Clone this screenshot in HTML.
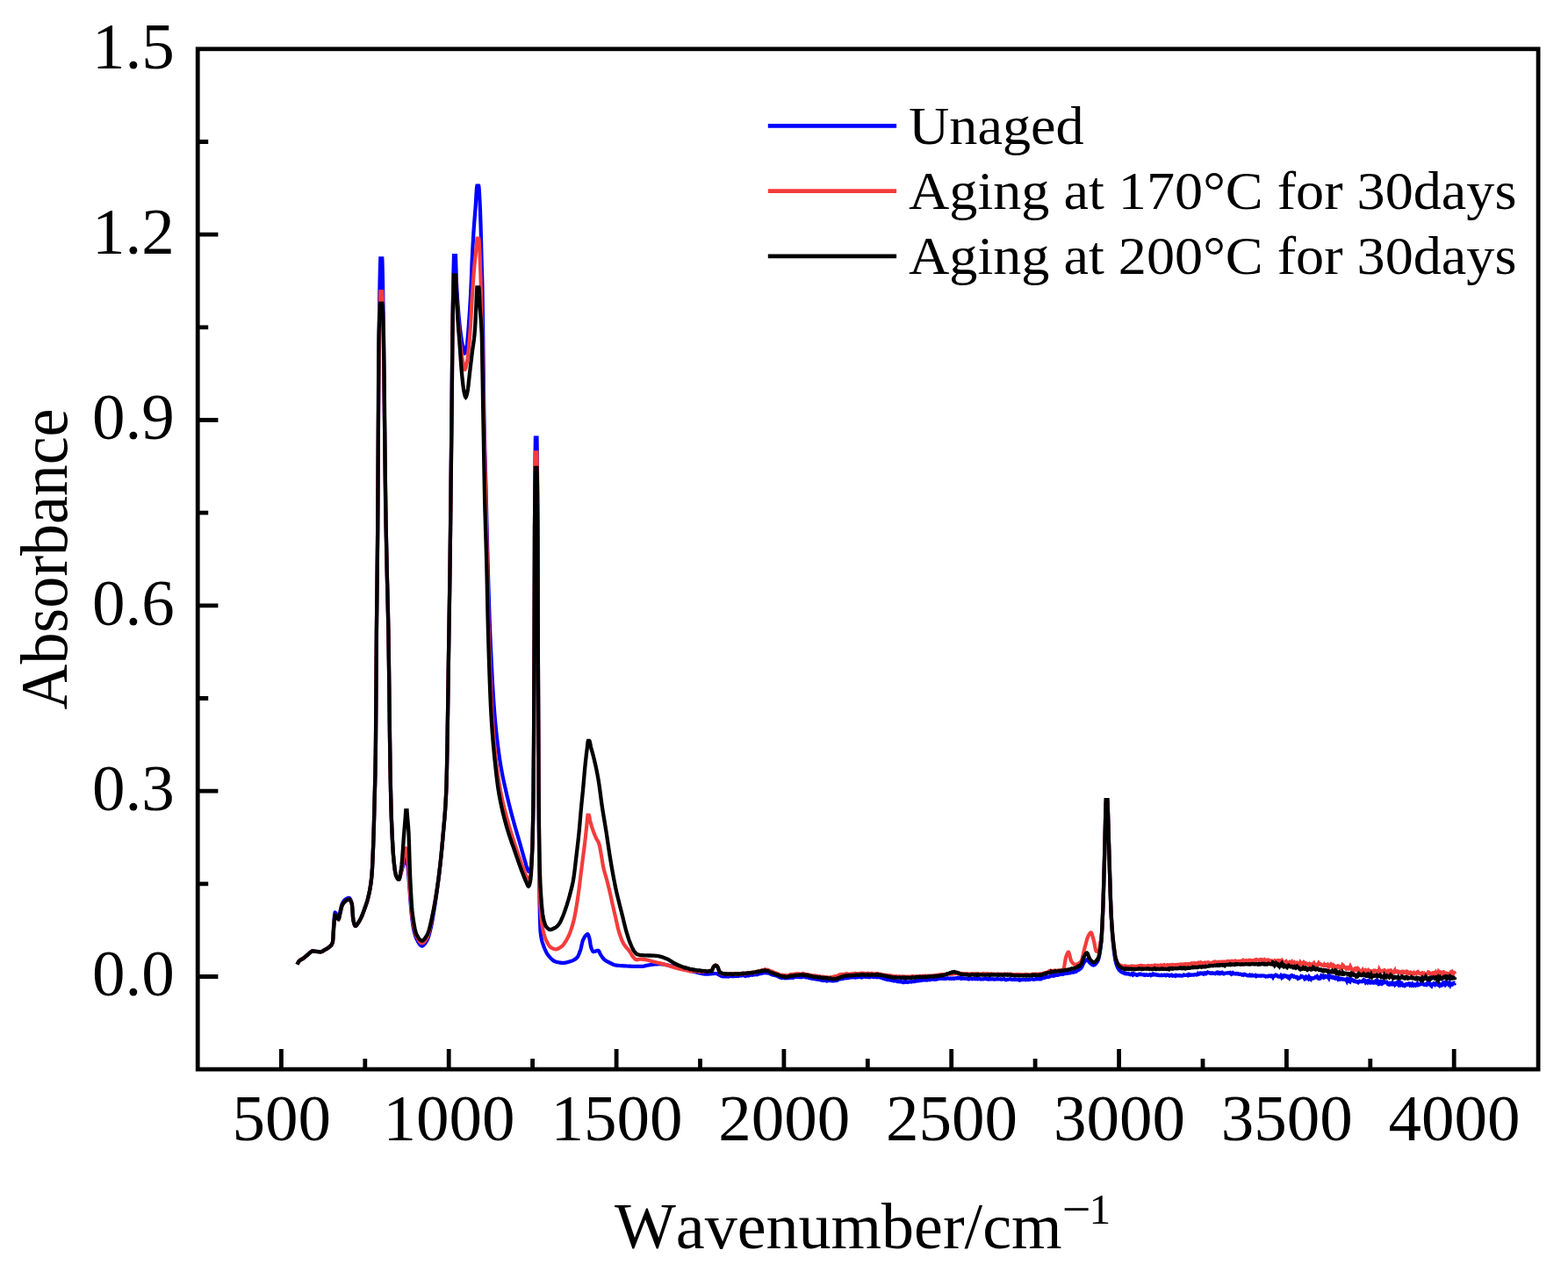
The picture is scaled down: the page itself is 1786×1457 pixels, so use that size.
<!DOCTYPE html>
<html lang="en"><head><meta charset="utf-8"><title>FTIR absorbance spectra</title>
<style>
html,body{margin:0;padding:0;background:#fff;}
body{width:1786px;height:1457px;overflow:hidden;}
svg{display:block;}
text{font-family:"Liberation Serif","Times New Roman",serif;fill:#000;font-kerning:none;}
.c{fill:none;stroke-linejoin:miter;stroke-miterlimit:3;stroke-linecap:butt;}
</style></head>
<body>
<svg width="1786" height="1457" viewBox="0 0 1786 1457">
<rect x="0" y="0" width="1786" height="1457" fill="#ffffff"/>
<path class="c" stroke="#0000ff" stroke-width="4.2" d="M338.5 1098.6L339.0 1097.6L339.5 1096.7L340.0 1095.8L340.5 1095.1L341.0 1094.5L341.5 1094.1L342.0 1093.7L342.5 1093.4L343.0 1093.1L343.5 1092.9L344.0 1092.6L344.5 1092.3L345.0 1092.0L345.2 1091.9L345.5 1091.7L346.0 1091.3L346.5 1090.9L347.0 1090.5L347.5 1090.1L348.0 1089.6L348.5 1089.2L349.0 1088.8L349.5 1088.4L350.0 1088.0L350.5 1087.6L351.0 1087.1L351.5 1086.7L352.0 1086.2L352.5 1085.7L353.0 1085.2L353.5 1084.8L354.0 1084.4L354.5 1084.1L355.0 1083.8L355.5 1083.6L356.0 1083.5L356.2 1083.5L356.5 1083.5L357.0 1083.5L357.5 1083.6L358.0 1083.6L358.5 1083.7L359.0 1083.8L359.5 1083.8L360.0 1083.9L360.5 1084.0L361.0 1084.0L361.5 1084.0L362.0 1084.1L362.5 1084.1L363.0 1084.2L363.5 1084.2L364.0 1084.3L364.5 1084.3L365.0 1084.3L365.4 1084.3L365.5 1084.3L366.0 1084.2L366.5 1084.1L367.0 1083.9L367.5 1083.6L368.0 1083.3L368.5 1083.0L369.0 1082.6L369.5 1082.3L370.0 1082.0L370.5 1081.7L371.0 1081.4L371.5 1081.2L372.0 1080.9L372.5 1080.6L373.0 1080.3L373.5 1080.0L374.0 1079.6L374.5 1079.3L375.0 1078.8L375.5 1078.4L376.0 1078.0L376.5 1077.5L377.0 1077.0L377.5 1076.4L378.0 1075.6L378.5 1074.5L378.9 1073.4L379.0 1072.9L379.5 1065.6L380.0 1055.9L380.2 1053.0L380.5 1049.2L381.0 1043.1L381.5 1039.6L381.6 1039.5L382.0 1039.7L382.5 1040.3L383.0 1041.2L383.5 1042.0L384.0 1043.0L384.5 1044.3L385.0 1045.4L385.5 1046.0L385.6 1046.0L386.0 1045.4L386.5 1043.2L387.0 1040.5L387.5 1038.0L388.0 1035.9L388.5 1033.7L389.0 1031.7L389.5 1030.0L389.8 1029.3L390.0 1028.9L390.5 1028.0L391.0 1027.2L391.5 1026.5L392.0 1025.9L392.5 1025.4L393.0 1025.0L393.5 1024.6L394.0 1024.3L394.5 1023.9L395.0 1023.6L395.5 1023.3L396.0 1023.1L396.5 1022.9L397.0 1022.8L397.4 1022.8L397.5 1022.8L398.0 1023.0L398.5 1023.6L399.0 1024.4L399.5 1025.4L400.0 1026.8L400.5 1028.3L400.7 1029.0L401.0 1031.1L401.5 1037.6L402.0 1044.6L402.4 1048.1L402.5 1048.6L403.0 1050.7L403.5 1052.5L404.0 1053.8L404.5 1054.7L404.9 1054.9L405.0 1054.9L405.5 1054.6L406.0 1054.1L406.5 1053.5L407.0 1052.7L407.5 1052.0L408.0 1051.3L408.5 1050.6L409.0 1049.8L409.5 1048.9L410.0 1048.0L410.5 1047.1L410.8 1046.5L411.0 1046.1L411.5 1045.0L412.0 1043.9L412.5 1042.7L413.0 1041.4L413.5 1040.1L414.0 1038.8L414.5 1037.4L415.0 1036.0L415.5 1034.6L416.0 1033.3L416.5 1031.9L417.0 1030.4L417.5 1028.9L418.0 1027.3L418.5 1025.6L419.0 1023.7L419.2 1022.9L419.5 1021.7L420.0 1019.6L420.5 1017.4L421.0 1015.0L421.5 1012.2L422.0 1009.2L422.5 1005.6L423.0 1001.5L423.4 997.7L423.5 996.6L424.0 989.1L424.5 978.7L425.0 966.6L425.1 964.1L425.5 952.8L426.0 935.8L426.5 916.8L426.8 905.0L427.0 897.4L427.5 876.9L427.8 860.0L428.0 842.2L428.5 773.8L428.9 720.0L429.0 709.3L429.5 663.1L430.0 618.9L430.4 576.0L430.5 562.7L431.0 479.8L431.2 450.0L431.5 411.5L432.0 357.9L432.1 350.0L432.5 324.4L432.9 306.0L433.0 302.1L433.3 294.4L433.5 294.4L434.0 294.4L434.5 294.4L435.0 294.4L435.3 294.4L435.5 298.4L435.7 306.0L436.0 319.5L436.5 350.0L437.0 393.1L437.5 441.5L437.6 450.0L438.0 481.8L438.5 519.2L439.0 553.5L439.1 560.0L439.5 585.0L440.0 613.9L440.5 640.0L441.0 661.8L441.5 680.9L442.0 700.9L442.4 720.0L442.5 725.6L443.0 759.9L443.5 800.3L444.0 840.6L444.5 874.5L444.6 880.0L445.0 899.9L445.5 920.9L445.8 930.4L446.0 935.6L446.5 947.5L447.0 957.9L447.5 966.8L448.0 974.1L448.5 979.9L448.6 980.9L449.0 984.6L449.5 988.7L450.0 992.3L450.5 995.1L451.0 997.2L451.2 997.7L451.5 998.4L452.0 999.4L452.5 1000.4L453.0 1001.1L453.5 1001.6L454.0 1001.9L454.2 1001.9L454.5 1001.8L455.0 1000.9L455.5 999.5L456.0 997.7L456.5 995.8L457.0 993.8L457.5 992.0L458.0 990.3L458.5 988.4L459.0 986.5L459.5 984.6L460.0 983.0L460.5 981.3L461.0 979.6L461.5 978.1L462.0 977.2L462.3 977.0L462.5 977.1L463.0 978.5L463.5 981.1L464.0 984.4L464.5 988.0L465.0 992.8L465.5 999.1L466.0 1006.0L466.3 1010.0L466.5 1012.6L467.0 1019.5L467.5 1026.5L468.0 1033.2L468.5 1039.0L468.6 1040.0L469.0 1043.8L469.5 1048.2L470.0 1052.1L470.5 1055.4L470.8 1057.0L471.0 1058.0L471.5 1060.2L472.0 1062.2L472.5 1064.1L473.0 1065.7L473.5 1067.2L474.0 1068.5L474.5 1069.6L474.7 1070.0L475.0 1070.6L475.5 1071.5L476.0 1072.5L476.5 1073.4L477.0 1074.2L477.5 1075.0L478.0 1075.7L478.5 1076.3L479.0 1076.8L479.5 1077.2L480.0 1077.5L480.5 1077.6L480.6 1077.6L481.0 1077.6L481.5 1077.4L482.0 1077.1L482.5 1076.7L483.0 1076.2L483.5 1075.6L484.0 1075.0L484.5 1074.3L485.0 1073.5L485.5 1072.7L486.0 1071.9L486.5 1071.0L487.0 1070.0L487.5 1068.8L488.0 1067.4L488.5 1065.8L489.0 1064.0L489.5 1062.1L490.0 1060.1L490.5 1058.1L491.0 1056.0L491.5 1053.7L492.0 1051.2L492.5 1048.5L493.0 1045.6L493.5 1042.6L493.6 1042.0L494.0 1039.6L494.5 1036.5L495.0 1033.3L495.5 1030.1L496.0 1026.8L496.5 1023.4L497.0 1019.9L497.5 1016.3L498.0 1012.6L498.5 1008.8L499.0 1005.0L499.5 1001.0L499.9 997.7L500.0 996.9L500.5 992.6L501.0 988.3L501.5 983.8L502.0 979.1L502.5 974.3L503.0 969.3L503.5 964.1L504.0 958.7L504.5 953.1L505.0 947.3L505.5 941.6L506.0 936.0L506.5 930.2L507.0 923.6L507.5 915.9L508.0 906.5L508.3 900.0L508.5 894.6L509.0 874.6L509.5 847.4L510.0 815.4L510.5 780.8L511.0 746.2L511.4 720.0L511.5 713.7L512.0 682.1L512.5 647.5L512.6 640.0L513.0 606.4L513.5 560.0L514.0 510.0L514.5 459.5L514.6 450.0L515.0 413.3L515.4 380.0L515.5 372.4L516.0 337.2L516.3 320.0L516.5 309.1L517.0 291.1L517.5 291.1L518.0 291.1L518.5 291.1L519.0 291.1L519.5 307.8L519.7 315.0L520.0 321.8L520.5 331.4L521.0 339.3L521.4 345.0L521.5 346.4L522.0 352.9L522.5 358.9L523.0 364.4L523.5 369.3L523.8 372.0L524.0 373.7L524.5 377.9L525.0 381.7L525.5 385.3L526.0 388.5L526.5 391.4L526.8 393.0L527.0 394.0L527.5 396.7L528.0 399.3L528.5 401.3L529.0 402.4L529.2 402.5L529.5 402.3L530.0 401.3L530.5 399.6L531.0 397.4L531.5 395.0L532.0 391.8L532.5 387.2L533.0 381.7L533.5 375.3L534.0 368.5L534.5 361.4L534.6 360.0L535.0 354.0L535.5 345.7L536.0 336.4L536.5 326.2L536.6 324.0L537.0 313.8L537.5 300.3L537.6 298.0L538.0 289.7L538.5 280.1L539.0 271.5L539.5 263.5L539.6 262.0L540.0 256.3L540.5 249.8L541.0 243.6L541.5 237.3L541.6 236.0L542.0 229.7L542.5 220.8L543.0 213.8L543.4 211.6L543.5 211.6L544.0 211.6L544.5 211.6L545.0 211.6L545.2 211.6L545.5 212.9L546.0 219.7L546.5 229.7L546.8 236.0L547.0 240.6L547.5 255.4L547.7 262.0L548.0 273.4L548.5 294.3L548.6 298.0L549.0 310.1L549.4 324.0L549.5 329.0L550.0 364.5L550.2 380.0L550.5 405.1L551.0 449.3L551.3 470.0L551.5 480.5L552.0 502.8L552.5 521.2L553.0 538.2L553.5 556.1L553.6 560.0L554.0 576.2L554.5 597.0L555.0 617.4L555.5 636.5L555.6 640.0L556.0 653.9L556.5 670.8L557.0 686.9L557.5 701.8L558.0 715.2L558.2 720.0L558.5 726.9L559.0 738.1L559.5 748.8L560.0 759.1L560.5 768.8L561.0 778.0L561.5 786.6L562.0 794.6L562.5 802.0L563.0 808.8L563.5 815.0L564.0 820.7L564.5 826.0L565.0 831.1L565.5 835.9L566.0 840.5L566.5 844.8L567.0 848.9L567.5 852.8L568.0 856.6L568.5 860.1L569.0 863.6L569.5 866.8L570.0 870.0L570.5 873.0L571.0 875.9L571.5 878.7L572.0 881.3L572.5 883.8L573.0 886.3L573.5 888.6L574.0 890.9L574.5 893.2L575.0 895.4L575.5 897.6L576.0 899.8L576.5 902.0L577.0 904.2L577.5 906.4L578.0 908.5L578.5 910.6L579.0 912.7L579.5 914.7L580.0 916.7L580.5 918.7L581.0 920.7L581.5 922.6L582.0 924.6L582.5 926.5L583.0 928.4L583.5 930.3L584.0 932.1L584.5 934.0L585.0 935.8L585.5 937.6L586.0 939.4L586.5 941.2L587.0 942.9L587.5 944.7L588.0 946.4L588.5 948.1L589.0 949.8L589.5 951.5L590.0 953.1L590.5 954.8L591.0 956.5L591.5 958.3L592.0 960.0L592.5 961.7L593.0 963.5L593.5 965.3L594.0 967.1L594.5 968.8L595.0 970.6L595.5 972.4L596.0 974.1L596.5 975.9L597.0 977.6L597.5 979.3L598.0 981.0L598.5 982.7L599.0 984.5L599.5 986.3L600.0 987.9L600.5 989.3L600.8 990.0L601.0 990.4L601.5 991.6L602.0 992.5L602.5 993.0L602.6 993.0L603.0 992.8L603.5 992.2L604.0 991.1L604.4 990.0L604.5 989.6L605.0 985.8L605.5 979.1L606.0 970.1L606.2 966.0L606.5 958.2L607.0 937.9L607.5 907.5L607.6 900.0L608.0 849.0L608.5 746.2L608.6 723.0L609.0 600.0L609.5 527.2L609.6 518.0L609.9 498.6L610.0 498.6L610.5 498.6L611.0 498.6L611.5 498.6L611.8 518.0L612.0 538.1L612.4 600.0L612.5 625.2L612.8 723.0L613.0 773.9L613.5 882.6L613.6 900.0L614.0 964.5L614.5 1023.5L614.6 1030.0L615.0 1048.4L615.5 1060.6L616.0 1064.9L616.5 1068.2L617.0 1070.7L617.5 1072.6L618.0 1074.2L618.5 1075.6L618.9 1076.7L619.0 1077.0L619.5 1078.4L620.0 1079.7L620.5 1081.0L621.0 1082.1L621.5 1083.2L622.0 1084.2L622.5 1085.2L623.0 1086.1L623.5 1086.9L624.0 1087.6L624.5 1088.3L624.9 1088.8L625.0 1088.9L625.5 1089.5L626.0 1090.1L626.5 1090.7L627.0 1091.2L627.5 1091.8L628.0 1092.3L628.5 1092.7L629.0 1093.2L629.5 1093.6L630.0 1094.0L630.5 1094.4L631.0 1094.7L631.5 1095.0L632.0 1095.2L632.5 1095.4L633.0 1095.6L633.5 1095.7L634.0 1095.9L634.5 1096.0L635.0 1096.1L635.5 1096.2L636.0 1096.3L636.5 1096.4L637.0 1096.5L637.5 1096.6L638.0 1096.7L638.5 1096.7L639.0 1096.8L639.5 1096.8L640.0 1096.9L640.5 1096.9L641.0 1096.9L641.1 1096.9L641.5 1096.9L642.0 1096.9L642.5 1096.8L643.0 1096.8L643.5 1096.7L644.0 1096.6L644.5 1096.6L645.0 1096.5L645.5 1096.3L646.0 1096.2L646.5 1096.1L647.0 1096.0L647.5 1095.8L648.0 1095.7L648.5 1095.5L649.0 1095.4L649.5 1095.2L650.0 1095.1L650.5 1094.9L651.0 1094.7L651.5 1094.6L652.0 1094.4L652.5 1094.1L653.0 1093.9L653.5 1093.6L654.0 1093.4L654.5 1093.1L655.0 1092.7L655.5 1092.4L656.0 1092.0L656.5 1091.6L657.0 1091.1L657.2 1090.9L657.5 1090.6L658.0 1089.8L658.5 1089.0L659.0 1087.9L659.5 1086.7L660.0 1085.4L660.5 1084.1L661.0 1082.7L661.2 1082.1L661.5 1081.1L662.0 1079.1L662.5 1076.8L663.0 1074.6L663.5 1072.6L663.9 1071.4L664.0 1071.2L664.5 1070.0L665.0 1068.9L665.5 1068.0L666.0 1067.2L666.5 1066.4L667.0 1065.8L667.3 1065.5L667.5 1065.3L668.0 1064.8L668.5 1064.4L669.0 1064.1L669.3 1064.1L669.5 1064.2L670.0 1064.9L670.5 1066.2L671.0 1067.7L671.3 1068.7L671.5 1069.5L672.0 1072.2L672.5 1075.5L673.0 1078.3L673.3 1079.4L673.5 1079.9L674.0 1081.2L674.5 1082.4L675.0 1083.3L675.5 1083.9L676.0 1084.1L676.5 1084.1L677.0 1084.0L677.5 1083.9L678.0 1083.7L678.5 1083.5L679.0 1083.3L679.5 1083.2L680.0 1083.0L680.5 1082.9L681.0 1082.8L681.4 1082.8L681.5 1082.8L682.0 1083.2L682.5 1084.1L683.0 1085.2L683.5 1086.4L684.0 1087.3L684.1 1087.5L684.5 1088.1L685.0 1088.9L685.5 1089.7L686.0 1090.4L686.5 1091.1L687.0 1091.7L687.5 1092.3L688.0 1092.8L688.1 1092.9L688.5 1093.2L689.0 1093.6L689.5 1094.0L690.0 1094.3L690.5 1094.7L691.0 1095.0L691.5 1095.2L692.0 1095.5L692.5 1095.8L693.0 1096.0L693.5 1096.3L694.0 1096.5L694.5 1096.8L694.8 1096.9L695.0 1097.0L695.5 1097.2L696.0 1097.5L696.5 1097.7L697.0 1098.0L697.5 1098.2L698.0 1098.5L698.5 1098.7L699.0 1098.9L699.5 1099.1L700.0 1099.3L700.5 1099.4L701.0 1099.5L701.5 1099.6L702.0 1099.7L702.5 1099.7L703.0 1099.8L703.5 1099.8L704.0 1099.9L704.5 1099.9L705.0 1100.0L705.5 1100.0L706.0 1100.0L706.5 1100.1L707.0 1100.1L707.5 1100.1L708.0 1100.1L708.5 1100.2L709.0 1100.2L709.5 1100.2L710.0 1100.3L710.5 1100.3L710.9 1100.3L711.0 1100.3L711.5 1100.3L712.0 1100.4L712.5 1100.4L713.0 1100.4L713.5 1100.5L714.0 1100.5L714.5 1100.5L715.0 1100.5L715.5 1100.6L716.0 1100.6L716.5 1100.6L717.0 1100.7L717.5 1100.7L718.0 1100.7L718.5 1100.7L719.0 1100.8L719.5 1100.8L720.0 1100.8L720.5 1100.8L721.0 1100.8L721.5 1100.9L722.0 1100.9L722.5 1100.9L723.0 1100.9L723.5 1100.9L724.0 1100.9L724.4 1100.9L724.5 1100.9L725.0 1100.9L725.5 1100.9L726.0 1100.9L726.5 1100.9L727.0 1100.9L727.5 1100.9L728.0 1100.9L728.5 1100.9L729.0 1100.9L729.5 1100.9L730.0 1100.9L730.5 1100.9L731.0 1100.9L731.1 1100.9L731.5 1100.9L732.0 1100.9L732.5 1100.8L733.0 1100.7L733.5 1100.6L734.0 1100.5L734.5 1100.4L735.0 1100.2L735.5 1100.1L736.0 1100.0L736.5 1099.8L737.0 1099.7L737.5 1099.6L737.8 1099.6L738.0 1099.6L738.5 1099.5L739.0 1099.4L739.5 1099.4L740.0 1099.3L740.5 1099.2L741.0 1099.1L741.5 1099.1L742.0 1099.0L742.5 1098.9L743.0 1098.9L743.5 1098.8L744.0 1098.7L744.5 1098.7L745.0 1098.6L745.5 1098.5L746.0 1098.5L746.5 1098.4L747.0 1098.4L747.5 1098.4L748.0 1098.3L748.5 1098.3L749.0 1098.3L749.5 1098.2L750.0 1098.2L750.5 1098.2L751.0 1098.2L751.2 1098.2L751.5 1098.2L752.0 1098.2L752.5 1098.2L753.0 1098.3L753.5 1098.3L754.0 1098.4L754.5 1098.4L755.0 1098.5L755.5 1098.5L756.0 1098.6L756.5 1098.7L757.0 1098.8L757.5 1098.9L758.0 1099.0L758.5 1099.1L759.0 1099.2L759.5 1099.3L760.0 1099.4L760.5 1099.5L761.0 1099.6L761.5 1099.7L762.0 1099.8L762.5 1100.0L763.0 1100.1L763.5 1100.2L764.0 1100.3L764.5 1100.4L765.0 1100.5L765.5 1100.6L766.0 1100.7L766.5 1100.8L767.0 1101.0L767.5 1101.1L768.0 1101.2L768.5 1101.3L769.0 1101.5L769.5 1101.6L770.0 1101.7L770.5 1101.9L771.0 1102.0L771.5 1102.2L772.0 1102.3L772.5 1102.4L773.0 1102.6L773.5 1102.7L774.0 1102.9L774.5 1103.0L775.0 1103.2L775.5 1103.3L776.0 1103.4L776.5 1103.6L777.0 1103.7L777.5 1103.8L778.0 1104.0L778.1 1104.0L778.5 1104.1L779.0 1104.2L779.5 1104.4L780.0 1104.5L780.5 1104.6L781.0 1104.7L781.5 1104.9L782.0 1105.0L782.5 1105.1L783.0 1105.2L783.5 1105.3L784.0 1105.5L784.5 1105.6L785.0 1105.7L785.5 1105.8L786.0 1105.9L786.5 1106.1L787.0 1106.2L787.5 1106.3L788.0 1106.4L788.5 1106.5L789.0 1106.6L789.5 1106.7L790.0 1106.9L790.5 1107.0L791.0 1107.1L791.5 1107.2L791.6 1107.2L792.0 1107.3L792.5 1107.4L793.0 1107.5L793.5 1107.6L794.0 1107.7L794.5 1107.9L795.0 1108.0L795.5 1108.1L796.0 1108.2L796.5 1108.4L797.0 1108.5L797.5 1108.6L798.0 1108.7L798.5 1108.8L799.0 1109.0L799.5 1109.1L800.0 1109.2L800.5 1109.3L801.0 1109.3L801.5 1109.4L802.0 1109.5L802.5 1109.6L803.0 1109.6L803.5 1109.6L804.0 1109.7L804.5 1109.7L805.0 1109.7L805.5 1109.7L806.0 1109.7L806.5 1109.7L807.0 1109.6L807.5 1109.6L808.0 1109.5L808.5 1109.5L809.0 1109.5L809.5 1109.4L810.0 1109.3L810.5 1109.3L811.0 1109.2L811.5 1109.2L812.0 1109.2L812.5 1109.1L813.0 1109.1L813.5 1109.0L814.0 1109.0L814.5 1109.0L815.0 1109.0L815.5 1109.0L816.0 1109.1L816.5 1109.3L817.0 1109.4L817.5 1109.7L818.0 1109.9L818.5 1110.2L819.0 1110.5L819.5 1110.8L820.0 1111.0L820.5 1111.3L821.0 1111.6L821.5 1111.8L822.0 1112.0L822.5 1112.2L823.0 1112.3L823.5 1112.4L823.8 1112.4L824.0 1112.4L824.5 1112.4L825.0 1112.4L825.5 1112.4L826.0 1112.4L826.5 1112.3L827.0 1112.3L827.5 1112.3L828.0 1112.3L828.5 1112.3L829.0 1112.2L829.5 1112.2L830.0 1112.4L830.5 1112.1L831.0 1111.9L831.5 1111.9L832.0 1111.9L832.5 1111.9L833.0 1112.1L833.5 1112.1L833.6 1112.0L834.0 1112.1L834.5 1112.0L835.0 1111.6L835.5 1111.6L836.0 1111.9L836.5 1112.0L837.0 1111.7L837.5 1111.6L838.0 1111.6L838.5 1111.8L839.0 1111.8L839.5 1111.7L840.0 1111.9L840.5 1112.1L841.0 1112.0L841.5 1111.8L842.0 1111.6L842.5 1111.4L843.0 1111.4L843.5 1111.5L844.0 1111.6L844.5 1111.4L845.0 1111.3L845.5 1111.2L846.0 1111.2L846.5 1111.2L847.0 1111.2L847.5 1111.2L848.0 1111.5L848.5 1111.8L849.0 1111.6L849.5 1111.2L850.0 1111.0L850.4 1111.1L850.5 1111.5L851.0 1111.3L851.5 1111.0L852.0 1111.3L852.5 1111.5L853.0 1111.3L853.5 1111.1L854.0 1111.0L854.5 1110.7L855.0 1110.5L855.5 1110.5L856.0 1110.6L856.5 1110.7L857.0 1110.8L857.5 1110.7L858.0 1110.6L858.5 1110.4L859.0 1110.3L859.5 1110.4L860.0 1110.3L860.5 1110.0L861.0 1110.0L861.5 1110.0L862.0 1110.1L862.5 1110.3L863.0 1110.1L863.5 1109.3L863.8 1109.0L864.0 1109.2L864.5 1109.5L865.0 1109.5L865.5 1109.1L866.0 1108.7L866.5 1108.8L867.0 1109.0L867.5 1108.9L868.0 1108.7L868.5 1108.5L869.0 1108.3L869.5 1108.3L870.0 1108.3L870.5 1108.2L871.0 1108.0L871.5 1107.9L872.0 1108.0L872.2 1108.2L872.5 1108.4L873.0 1108.4L873.5 1108.2L874.0 1108.1L874.5 1108.2L875.0 1108.5L875.5 1108.7L876.0 1108.8L876.5 1108.9L877.0 1109.1L877.5 1109.4L878.0 1109.7L878.5 1110.0L879.0 1110.2L879.5 1110.2L880.0 1110.2L880.5 1110.5L880.6 1110.6L881.0 1110.5L881.5 1110.6L882.0 1110.8L882.5 1110.8L883.0 1111.3L883.5 1111.5L884.0 1111.5L884.5 1111.6L885.0 1111.7L885.5 1111.8L886.0 1112.1L886.5 1112.5L887.0 1112.8L887.5 1112.7L888.0 1112.9L888.5 1113.5L889.0 1113.6L889.5 1113.3L890.0 1113.7L890.5 1114.1L891.0 1113.9L891.5 1113.7L892.0 1114.0L892.5 1114.0L893.0 1113.8L893.5 1113.9L894.0 1114.2L894.5 1114.3L894.9 1114.2L895.0 1114.1L895.5 1114.1L896.0 1114.2L896.5 1114.2L897.0 1114.1L897.5 1114.1L898.0 1114.2L898.5 1114.2L899.0 1114.1L899.5 1113.9L900.0 1113.8L900.5 1113.8L901.0 1113.8L901.5 1113.6L902.0 1113.2L902.5 1113.0L903.0 1113.5L903.5 1113.8L904.0 1113.5L904.2 1113.2L904.5 1113.1L905.0 1113.1L905.5 1113.0L906.0 1112.8L906.5 1112.7L907.0 1112.7L907.5 1112.9L908.0 1112.9L908.5 1112.9L909.0 1112.9L909.5 1113.0L910.0 1113.1L910.5 1113.0L911.0 1112.5L911.5 1112.4L912.0 1113.0L912.5 1113.2L913.0 1112.8L913.5 1112.6L914.0 1112.7L914.2 1112.8L914.5 1112.7L915.0 1112.7L915.5 1112.5L916.0 1112.4L916.5 1112.7L917.0 1113.1L917.5 1113.2L918.0 1113.0L918.5 1113.0L919.0 1113.2L919.5 1113.4L920.0 1113.4L920.5 1113.6L921.0 1113.8L921.5 1114.1L922.0 1114.3L922.5 1114.4L923.0 1114.1L923.5 1113.9L924.0 1114.3L924.5 1114.6L925.0 1114.8L925.5 1114.8L926.0 1114.8L926.5 1114.9L927.0 1115.1L927.5 1115.2L927.7 1114.8L928.0 1114.4L928.5 1114.5L929.0 1114.8L929.5 1115.2L930.0 1115.6L930.5 1115.5L931.0 1115.4L931.5 1115.7L932.0 1115.6L932.5 1115.6L933.0 1116.0L933.5 1116.2L934.0 1116.2L934.5 1116.4L935.0 1116.6L935.5 1116.7L936.0 1116.8L936.5 1116.9L937.0 1116.6L937.5 1116.6L938.0 1117.0L938.5 1116.9L939.0 1116.7L939.5 1116.7L940.0 1116.9L940.5 1117.0L941.0 1117.2L941.5 1117.4L942.0 1117.5L942.5 1117.2L943.0 1116.8L943.5 1116.8L944.0 1116.8L944.5 1116.9L945.0 1117.1L945.5 1117.1L946.0 1117.1L946.5 1117.0L947.0 1116.8L947.5 1116.9L948.0 1117.3L948.5 1117.3L949.0 1117.3L949.5 1117.3L950.0 1116.9L950.5 1116.8L951.0 1116.7L951.2 1116.6L951.5 1117.1L952.0 1117.1L952.5 1116.8L953.0 1117.0L953.5 1116.9L954.0 1116.4L954.5 1116.1L955.0 1115.8L955.5 1115.5L956.0 1115.5L956.5 1115.4L957.0 1115.3L957.5 1115.4L957.9 1115.2L958.0 1115.1L958.5 1114.9L959.0 1114.8L959.5 1114.9L960.0 1115.1L960.5 1114.9L961.0 1114.6L961.5 1114.2L962.0 1113.9L962.5 1114.0L963.0 1114.2L963.5 1114.3L964.0 1114.2L964.5 1113.9L965.0 1113.7L965.5 1113.9L966.0 1114.0L966.5 1113.9L967.0 1113.7L967.5 1113.7L968.0 1113.5L968.5 1113.4L969.0 1113.4L969.5 1113.5L970.0 1113.5L970.5 1113.4L971.0 1113.3L971.5 1113.2L972.0 1113.3L972.5 1113.4L973.0 1113.4L973.5 1113.2L974.0 1113.4L974.5 1113.5L975.0 1113.0L975.5 1112.7L976.0 1112.8L976.5 1113.1L977.0 1113.3L977.5 1113.1L978.0 1112.9L978.5 1112.9L979.0 1113.0L979.5 1113.1L980.0 1113.2L980.5 1113.1L981.0 1113.2L981.5 1113.5L982.0 1113.4L982.5 1113.0L983.0 1112.8L983.5 1112.6L984.0 1112.5L984.5 1112.6L984.8 1112.7L985.0 1112.7L985.5 1112.7L986.0 1112.9L986.5 1113.0L987.0 1112.9L987.5 1113.0L988.0 1113.0L988.5 1113.1L989.0 1113.1L989.5 1113.0L990.0 1112.7L990.5 1112.9L991.0 1113.1L991.5 1112.7L992.0 1112.2L992.5 1112.0L993.0 1112.0L993.5 1112.2L994.0 1112.7L994.5 1113.1L995.0 1113.0L995.5 1112.9L996.0 1113.0L996.5 1112.9L997.0 1112.9L997.5 1113.0L998.0 1113.0L998.2 1112.9L998.5 1113.2L999.0 1113.3L999.5 1113.2L1000.0 1113.2L1000.5 1113.1L1001.0 1113.1L1001.5 1113.3L1002.0 1113.4L1002.5 1113.4L1003.0 1113.5L1003.5 1113.7L1004.0 1113.9L1004.5 1113.8L1005.0 1114.1L1005.5 1114.4L1006.0 1114.7L1006.5 1114.5L1007.0 1114.3L1007.5 1114.8L1008.0 1115.2L1008.5 1115.1L1009.0 1115.3L1009.5 1115.5L1010.0 1115.7L1010.5 1116.0L1011.0 1116.2L1011.5 1116.2L1012.0 1115.8L1012.5 1115.7L1013.0 1116.2L1013.5 1116.5L1014.0 1116.3L1014.5 1116.1L1015.0 1116.4L1015.5 1116.7L1016.0 1116.8L1016.5 1116.8L1017.0 1116.8L1017.5 1116.8L1018.0 1116.8L1018.4 1117.0L1018.5 1117.4L1019.0 1117.4L1019.5 1117.3L1020.0 1117.4L1020.5 1117.4L1021.0 1117.4L1021.5 1117.7L1022.0 1118.1L1022.5 1118.1L1023.0 1117.9L1023.5 1117.9L1024.0 1118.3L1024.5 1118.4L1025.0 1118.3L1025.5 1118.0L1026.0 1117.8L1026.5 1118.1L1027.0 1118.6L1027.5 1118.7L1028.0 1118.8L1028.5 1119.1L1029.0 1119.1L1029.5 1118.5L1030.0 1117.9L1030.1 1117.9L1030.5 1118.4L1031.0 1118.8L1031.5 1118.5L1032.0 1118.2L1032.5 1118.5L1033.0 1118.8L1033.5 1118.5L1034.0 1118.5L1034.5 1118.8L1035.0 1118.6L1035.5 1118.3L1036.0 1118.3L1036.5 1118.3L1037.0 1118.3L1037.5 1118.5L1038.0 1118.6L1038.5 1118.3L1039.0 1118.2L1039.5 1118.2L1040.0 1118.1L1040.5 1118.0L1041.0 1118.1L1041.5 1118.2L1042.0 1118.1L1042.5 1117.7L1043.0 1117.1L1043.5 1117.2L1044.0 1117.5L1044.5 1117.4L1045.0 1117.2L1045.5 1117.2L1046.0 1117.2L1046.5 1117.3L1047.0 1117.2L1047.5 1117.1L1048.0 1117.1L1048.5 1117.0L1049.0 1116.8L1049.5 1116.8L1050.0 1116.5L1050.5 1116.5L1051.0 1116.6L1051.5 1116.4L1052.0 1116.3L1052.5 1116.2L1053.0 1116.3L1053.5 1116.5L1054.0 1116.6L1054.5 1116.3L1055.0 1116.3L1055.5 1116.5L1056.0 1116.6L1056.5 1116.4L1057.0 1116.1L1057.5 1116.1L1058.0 1116.0L1058.5 1116.1L1059.0 1116.2L1059.5 1115.9L1060.0 1115.5L1060.5 1115.2L1061.0 1115.3L1061.5 1115.6L1062.0 1115.6L1062.5 1115.6L1063.0 1115.3L1063.5 1115.4L1064.0 1115.7L1064.5 1115.9L1065.0 1115.8L1065.5 1115.9L1066.0 1115.9L1066.5 1115.6L1067.0 1115.2L1067.5 1115.2L1068.0 1115.3L1068.5 1115.2L1069.0 1115.1L1069.5 1114.8L1070.0 1114.8L1070.5 1114.9L1071.0 1114.6L1071.5 1114.6L1072.0 1114.7L1072.1 1114.7L1072.5 1114.7L1073.0 1114.8L1073.5 1114.8L1074.0 1114.8L1074.5 1114.8L1075.0 1114.8L1075.5 1114.7L1076.0 1114.7L1076.5 1115.0L1077.0 1115.1L1077.5 1114.9L1078.0 1114.6L1078.5 1114.5L1079.0 1114.6L1079.5 1114.4L1080.0 1114.4L1080.5 1114.6L1081.0 1114.7L1081.5 1114.9L1082.0 1114.8L1082.5 1114.5L1083.0 1114.6L1083.5 1114.9L1084.0 1114.9L1084.5 1114.8L1085.0 1114.7L1085.5 1114.5L1086.0 1114.6L1086.5 1114.9L1086.6 1114.8L1087.0 1114.4L1087.5 1114.3L1088.0 1114.4L1088.5 1114.4L1089.0 1114.4L1089.5 1114.5L1090.0 1114.3L1090.5 1114.1L1091.0 1114.3L1091.5 1114.3L1092.0 1114.1L1092.5 1114.2L1093.0 1114.3L1093.5 1114.0L1094.0 1113.9L1094.5 1114.4L1095.0 1114.9L1095.5 1114.8L1096.0 1114.5L1096.5 1114.3L1096.8 1114.4L1097.0 1114.5L1097.5 1114.4L1098.0 1114.6L1098.5 1114.8L1099.0 1114.9L1099.5 1114.8L1100.0 1114.7L1100.5 1114.8L1101.0 1114.9L1101.5 1114.9L1102.0 1115.0L1102.5 1114.8L1103.0 1114.9L1103.5 1115.4L1104.0 1115.3L1104.5 1114.7L1105.0 1114.5L1105.5 1114.6L1106.0 1114.8L1106.5 1115.0L1107.0 1115.2L1107.5 1115.3L1108.0 1115.1L1108.5 1115.0L1109.0 1115.0L1109.5 1114.9L1110.0 1115.0L1110.5 1115.2L1111.0 1115.1L1111.5 1114.8L1112.0 1114.7L1112.5 1115.0L1113.0 1115.2L1113.5 1115.3L1113.6 1115.3L1114.0 1115.0L1114.5 1114.7L1115.0 1114.5L1115.5 1114.6L1116.0 1115.0L1116.5 1115.3L1117.0 1115.5L1117.5 1115.4L1118.0 1115.5L1118.5 1115.5L1119.0 1115.3L1119.5 1115.3L1120.0 1115.3L1120.5 1115.1L1121.0 1115.1L1121.5 1115.0L1122.0 1114.8L1122.5 1114.8L1123.0 1115.0L1123.5 1115.2L1124.0 1115.1L1124.5 1115.1L1125.0 1115.4L1125.5 1115.6L1126.0 1115.6L1126.5 1115.5L1127.0 1115.0L1127.5 1114.7L1128.0 1115.0L1128.5 1115.4L1129.0 1115.3L1129.5 1115.3L1130.0 1115.3L1130.5 1115.2L1131.0 1115.1L1131.5 1115.4L1132.0 1115.6L1132.5 1115.6L1133.0 1115.6L1133.5 1115.6L1134.0 1115.5L1134.5 1115.4L1135.0 1115.1L1135.5 1115.1L1136.0 1115.5L1136.5 1115.5L1137.0 1115.4L1137.5 1115.5L1138.0 1115.5L1138.5 1115.5L1139.0 1115.5L1139.5 1115.3L1140.0 1115.5L1140.5 1115.8L1141.0 1115.7L1141.5 1115.5L1142.0 1115.5L1142.5 1115.5L1143.0 1115.4L1143.5 1115.2L1143.8 1115.1L1144.0 1115.4L1144.5 1115.7L1145.0 1116.0L1145.5 1116.1L1146.0 1116.2L1146.5 1116.0L1147.0 1115.7L1147.5 1115.7L1148.0 1115.9L1148.5 1115.8L1149.0 1115.6L1149.5 1115.4L1150.0 1115.3L1150.5 1115.1L1151.0 1115.3L1151.5 1115.6L1152.0 1115.8L1152.5 1115.8L1153.0 1115.8L1153.5 1116.0L1154.0 1115.8L1154.5 1115.6L1155.0 1115.5L1155.5 1115.8L1156.0 1116.1L1156.5 1116.0L1157.0 1115.9L1157.5 1115.9L1158.0 1116.0L1158.5 1116.0L1159.0 1116.0L1159.5 1116.1L1160.0 1116.0L1160.5 1115.7L1161.0 1115.9L1161.5 1116.6L1162.0 1116.5L1162.5 1116.0L1163.0 1116.0L1163.5 1116.2L1164.0 1116.2L1164.5 1116.0L1165.0 1115.8L1165.5 1115.8L1166.0 1115.9L1166.5 1115.9L1167.0 1115.9L1167.5 1116.0L1168.0 1116.3L1168.5 1116.2L1169.0 1115.8L1169.5 1115.6L1170.0 1115.8L1170.5 1116.0L1171.0 1116.1L1171.5 1116.1L1172.0 1115.9L1172.5 1115.6L1173.0 1115.6L1173.5 1115.8L1174.0 1115.6L1174.5 1115.3L1175.0 1115.2L1175.5 1115.1L1176.0 1115.4L1176.5 1115.6L1177.0 1115.8L1177.5 1115.8L1178.0 1115.6L1178.5 1115.6L1179.0 1115.5L1179.5 1115.2L1180.0 1115.0L1180.5 1115.2L1181.0 1115.3L1181.5 1115.0L1182.0 1115.0L1182.5 1115.1L1183.0 1115.1L1183.5 1115.1L1184.0 1115.1L1184.1 1115.3L1184.5 1115.3L1185.0 1115.5L1185.5 1115.5L1186.0 1114.9L1186.5 1114.4L1187.0 1114.4L1187.5 1114.4L1188.0 1114.0L1188.5 1113.5L1189.0 1113.6L1189.5 1114.0L1190.0 1113.9L1190.5 1113.4L1191.0 1113.2L1191.5 1113.2L1192.0 1113.1L1192.5 1113.1L1193.0 1113.0L1193.5 1112.8L1194.0 1112.7L1194.5 1112.8L1195.0 1112.7L1195.5 1112.5L1196.0 1112.3L1196.5 1112.0L1197.0 1111.8L1197.5 1111.5L1197.6 1111.6L1198.0 1111.6L1198.5 1111.7L1199.0 1111.7L1199.5 1111.3L1200.0 1111.2L1200.5 1111.6L1201.0 1111.3L1201.5 1110.9L1202.0 1111.0L1202.5 1110.8L1203.0 1110.4L1203.5 1110.5L1204.0 1110.8L1204.5 1110.9L1205.0 1110.8L1205.5 1110.7L1206.0 1110.6L1206.5 1110.3L1207.0 1110.0L1207.5 1110.0L1208.0 1109.9L1208.5 1109.8L1209.0 1109.8L1209.5 1109.7L1210.0 1109.6L1210.5 1109.9L1211.0 1109.7L1211.5 1109.2L1212.0 1109.1L1212.5 1109.2L1213.0 1109.2L1213.5 1109.1L1214.0 1108.8L1214.5 1108.9L1215.0 1109.0L1215.5 1109.0L1216.0 1108.8L1216.5 1108.6L1217.0 1108.6L1217.5 1108.5L1218.0 1108.4L1218.5 1108.3L1219.0 1108.4L1219.5 1108.1L1220.0 1107.7L1220.5 1107.6L1221.0 1107.6L1221.5 1107.4L1222.0 1107.4L1222.5 1107.6L1222.8 1107.6L1223.0 1107.4L1223.5 1106.9L1224.0 1106.6L1224.5 1106.5L1225.0 1106.6L1225.5 1106.8L1226.0 1106.5L1226.5 1106.1L1227.0 1105.7L1227.5 1105.3L1228.0 1105.2L1228.5 1105.1L1229.0 1104.8L1229.5 1104.3L1230.0 1103.8L1230.5 1103.6L1231.0 1103.2L1231.2 1103.0L1231.5 1102.7L1232.0 1101.9L1232.5 1101.0L1233.0 1099.9L1233.5 1098.8L1234.0 1097.7L1234.5 1096.8L1235.0 1096.0L1235.5 1095.3L1236.0 1094.7L1236.5 1094.0L1237.0 1093.5L1237.5 1093.1L1238.0 1093.0L1238.5 1093.2L1239.0 1093.6L1239.5 1094.3L1240.0 1095.0L1240.5 1095.8L1241.0 1096.5L1241.5 1097.0L1242.0 1097.4L1242.5 1097.8L1243.0 1098.3L1243.5 1098.7L1244.0 1099.0L1244.5 1099.3L1245.0 1099.4L1245.5 1099.5L1246.0 1099.4L1246.5 1099.3L1247.0 1099.0L1247.5 1098.6L1248.0 1098.1L1248.5 1097.5L1249.0 1096.9L1249.5 1096.1L1250.0 1095.4L1250.5 1094.5L1251.0 1093.3L1251.5 1091.6L1252.0 1089.3L1252.5 1086.5L1253.0 1083.3L1253.5 1079.5L1254.0 1075.4L1254.2 1073.6L1254.5 1070.3L1255.0 1062.8L1255.5 1053.2L1256.0 1042.3L1256.1 1040.0L1256.5 1029.5L1257.0 1013.6L1257.4 1000.0L1257.5 996.5L1258.0 978.0L1258.5 958.1L1258.7 950.0L1259.0 936.3L1259.4 920.0L1259.5 917.0L1259.8 911.2L1260.0 911.2L1260.5 911.2L1261.0 911.2L1261.4 911.2L1261.5 912.1L1261.8 920.0L1262.0 925.8L1262.5 943.1L1262.7 950.0L1263.0 960.1L1263.5 977.2L1264.0 993.7L1264.2 1000.0L1264.5 1009.4L1265.0 1024.9L1265.5 1037.9L1265.6 1040.0L1266.0 1047.7L1266.5 1056.4L1267.0 1064.1L1267.5 1070.7L1268.0 1076.1L1268.2 1078.0L1268.5 1080.6L1269.0 1084.7L1269.5 1088.4L1270.0 1091.6L1270.5 1094.4L1271.0 1096.6L1271.4 1098.0L1271.5 1098.3L1272.0 1099.7L1272.5 1100.9L1273.0 1102.1L1273.5 1103.1L1274.0 1103.9L1274.5 1104.7L1275.0 1105.3L1275.5 1105.8L1275.7 1106.0L1276.0 1106.2L1276.5 1106.6L1277.0 1107.0L1277.5 1107.3L1278.0 1107.6L1278.5 1107.9L1279.0 1108.1L1279.5 1108.3L1280.0 1108.2L1280.5 1108.6L1281.0 1109.0L1281.5 1109.1L1281.6 1108.9L1282.0 1108.8L1282.5 1109.0L1283.0 1109.3L1283.5 1109.2L1284.0 1109.2L1284.5 1109.3L1285.0 1109.5L1285.5 1109.3L1286.0 1109.4L1286.5 1109.7L1287.0 1110.0L1287.5 1110.2L1288.0 1110.1L1288.5 1109.6L1289.0 1109.3L1289.5 1109.9L1290.0 1110.4L1290.5 1109.6L1291.0 1109.2L1291.5 1109.7L1292.0 1110.2L1292.5 1110.1L1293.0 1109.8L1293.5 1110.0L1294.0 1110.3L1294.5 1110.7L1295.0 1111.0L1295.5 1110.8L1296.0 1110.4L1296.5 1110.2L1297.0 1109.9L1297.5 1109.7L1298.0 1110.1L1298.5 1110.1L1299.0 1109.7L1299.5 1109.7L1300.0 1110.0L1300.5 1110.2L1301.0 1110.2L1301.5 1110.3L1302.0 1110.5L1302.5 1110.3L1303.0 1110.2L1303.5 1110.8L1304.0 1111.0L1304.5 1110.7L1305.0 1110.7L1305.5 1110.5L1306.0 1110.3L1306.5 1110.4L1307.0 1110.7L1307.5 1110.8L1308.0 1110.8L1308.5 1110.6L1309.0 1110.4L1309.5 1110.2L1310.0 1110.2L1310.5 1110.5L1311.0 1111.0L1311.5 1110.7L1312.0 1110.3L1312.5 1110.5L1313.0 1110.1L1313.5 1109.6L1314.0 1110.0L1314.5 1110.3L1315.0 1110.4L1315.2 1110.2L1315.5 1110.1L1316.0 1110.3L1316.5 1110.2L1317.0 1110.3L1317.5 1110.8L1318.0 1111.0L1318.5 1111.0L1319.0 1110.7L1319.5 1110.7L1320.0 1111.1L1320.5 1111.1L1321.0 1111.2L1321.5 1111.1L1322.0 1111.2L1322.5 1111.2L1323.0 1110.7L1323.5 1110.9L1324.0 1111.2L1324.5 1111.2L1325.0 1110.9L1325.5 1110.9L1326.0 1110.6L1326.5 1110.6L1327.0 1110.9L1327.5 1111.1L1328.0 1111.4L1328.5 1111.2L1329.0 1110.7L1329.5 1110.7L1330.0 1110.7L1330.5 1110.7L1331.0 1110.9L1331.5 1111.2L1332.0 1111.6L1332.5 1111.4L1333.0 1110.9L1333.5 1110.9L1334.0 1110.7L1334.5 1110.7L1335.0 1111.3L1335.5 1111.7L1336.0 1111.5L1336.5 1111.3L1337.0 1111.3L1337.5 1111.4L1338.0 1111.7L1338.5 1111.9L1339.0 1111.2L1339.5 1110.7L1340.0 1110.9L1340.5 1111.5L1341.0 1111.5L1341.5 1111.0L1342.0 1111.0L1342.5 1111.3L1343.0 1111.5L1343.5 1111.4L1344.0 1111.0L1344.5 1111.1L1345.0 1111.5L1345.5 1111.6L1346.0 1111.6L1346.5 1111.6L1347.0 1111.5L1347.5 1111.3L1348.0 1111.0L1348.5 1110.5L1348.8 1110.6L1349.0 1111.0L1349.5 1111.0L1350.0 1111.0L1350.5 1111.0L1351.0 1110.9L1351.5 1111.0L1352.0 1111.0L1352.5 1110.5L1353.0 1110.4L1353.5 1111.2L1354.0 1110.9L1354.5 1110.1L1355.0 1110.4L1355.5 1110.9L1356.0 1110.9L1356.5 1110.8L1357.0 1110.5L1357.5 1110.6L1358.0 1110.6L1358.5 1110.5L1359.0 1110.4L1359.5 1110.6L1360.0 1110.6L1360.5 1110.2L1361.0 1110.1L1361.5 1110.2L1362.0 1110.2L1362.5 1110.3L1363.0 1110.5L1363.5 1110.4L1364.0 1109.7L1364.5 1109.0L1365.0 1109.4L1365.5 1109.7L1366.0 1109.6L1366.5 1109.1L1367.0 1108.7L1367.5 1109.1L1368.0 1109.1L1368.5 1108.6L1369.0 1108.5L1369.5 1108.8L1370.0 1109.2L1370.5 1109.5L1371.0 1109.7L1371.5 1109.2L1372.0 1108.3L1372.5 1108.3L1373.0 1109.2L1373.5 1109.4L1374.0 1108.9L1374.5 1108.5L1375.0 1107.9L1375.5 1107.5L1376.0 1107.8L1376.5 1108.1L1377.0 1108.2L1377.5 1108.2L1378.0 1108.4L1378.5 1108.8L1379.0 1109.0L1379.5 1109.0L1380.0 1109.0L1380.1 1108.4L1380.5 1108.2L1381.0 1108.4L1381.5 1108.5L1382.0 1108.6L1382.5 1108.6L1383.0 1108.8L1383.5 1109.1L1384.0 1109.2L1384.5 1108.6L1385.0 1108.3L1385.5 1108.1L1386.0 1107.8L1386.5 1108.3L1387.0 1108.7L1387.5 1108.3L1388.0 1107.7L1388.5 1107.8L1389.0 1108.6L1389.5 1109.2L1390.0 1109.0L1390.5 1108.3L1391.0 1108.0L1391.5 1107.9L1392.0 1107.7L1392.5 1108.1L1393.0 1108.9L1393.5 1109.2L1394.0 1109.1L1394.5 1109.2L1395.0 1109.0L1395.5 1108.6L1396.0 1108.5L1396.5 1108.5L1397.0 1108.5L1397.5 1108.4L1398.0 1108.4L1398.5 1108.6L1399.0 1108.4L1399.5 1108.1L1400.0 1108.2L1400.5 1108.0L1401.0 1107.9L1401.5 1108.7L1402.0 1109.6L1402.5 1109.9L1403.0 1109.4L1403.5 1108.9L1403.6 1109.1L1404.0 1108.9L1404.5 1108.4L1405.0 1108.8L1405.5 1109.2L1406.0 1109.0L1406.5 1109.0L1407.0 1109.2L1407.5 1109.4L1408.0 1109.1L1408.5 1109.0L1409.0 1109.2L1409.5 1109.0L1410.0 1109.0L1410.5 1109.6L1411.0 1109.8L1411.5 1109.8L1412.0 1109.7L1412.5 1109.6L1413.0 1109.6L1413.5 1109.8L1414.0 1110.2L1414.5 1110.5L1415.0 1110.4L1415.5 1110.5L1416.0 1110.7L1416.5 1110.0L1417.0 1109.9L1417.5 1110.4L1418.0 1110.3L1418.5 1110.0L1419.0 1110.2L1419.5 1110.7L1420.0 1111.0L1420.5 1111.1L1421.0 1111.3L1421.5 1111.3L1422.0 1111.1L1422.5 1111.2L1423.0 1110.9L1423.5 1110.6L1423.8 1110.9L1424.0 1111.4L1424.5 1111.6L1425.0 1111.5L1425.5 1111.1L1426.0 1110.8L1426.5 1111.2L1427.0 1111.5L1427.5 1111.3L1428.0 1111.3L1428.5 1111.4L1429.0 1111.5L1429.5 1111.2L1430.0 1110.9L1430.5 1111.5L1431.0 1112.2L1431.5 1112.0L1432.0 1111.6L1432.5 1111.5L1433.0 1111.6L1433.5 1111.7L1434.0 1111.7L1434.5 1111.7L1435.0 1111.5L1435.5 1111.6L1436.0 1111.8L1436.5 1111.5L1437.0 1111.4L1437.5 1111.6L1438.0 1111.5L1438.5 1111.4L1439.0 1111.5L1439.5 1111.6L1440.0 1111.6L1440.5 1111.7L1441.0 1112.3L1441.5 1112.5L1442.0 1112.1L1442.5 1112.0L1443.0 1111.9L1443.5 1112.1L1444.0 1112.3L1444.5 1112.0L1445.0 1111.6L1445.5 1111.5L1446.0 1111.7L1446.5 1112.0L1447.0 1112.1L1447.5 1111.6L1448.0 1111.3L1448.5 1111.3L1449.0 1111.5L1449.5 1112.2L1450.0 1113.1L1450.5 1112.2L1451.0 1112.2L1451.5 1111.9L1452.0 1111.2L1452.5 1111.0L1453.0 1110.7L1453.5 1110.9L1454.0 1111.4L1454.5 1111.2L1455.0 1111.5L1455.5 1112.2L1456.0 1112.6L1456.5 1112.5L1457.0 1112.5L1457.5 1112.6L1458.0 1112.4L1458.5 1112.0L1459.0 1111.3L1459.5 1111.9L1460.0 1113.2L1460.5 1112.5L1461.0 1112.1L1461.5 1112.8L1462.0 1112.3L1462.5 1111.2L1463.0 1111.2L1463.5 1111.8L1464.0 1111.5L1464.5 1111.6L1465.0 1112.5L1465.5 1112.5L1466.0 1112.1L1466.5 1112.4L1467.0 1113.6L1467.5 1113.9L1468.0 1112.7L1468.5 1113.0L1469.0 1114.0L1469.5 1113.3L1470.0 1111.9L1470.5 1111.4L1471.0 1111.3L1471.5 1111.1L1472.0 1111.5L1472.5 1112.0L1473.0 1112.2L1473.5 1112.6L1474.0 1112.4L1474.1 1112.3L1474.5 1112.8L1475.0 1112.8L1475.5 1112.9L1476.0 1113.3L1476.5 1113.0L1477.0 1112.8L1477.5 1113.1L1478.0 1114.0L1478.5 1114.9L1479.0 1114.7L1479.5 1114.2L1480.0 1114.0L1480.5 1113.7L1481.0 1113.7L1481.5 1113.0L1482.0 1112.2L1482.5 1112.5L1483.0 1112.7L1483.5 1112.3L1484.0 1112.6L1484.5 1113.1L1485.0 1113.3L1485.5 1113.8L1486.0 1114.8L1486.5 1114.3L1487.0 1113.6L1487.5 1114.4L1488.0 1113.9L1488.5 1112.9L1489.0 1113.1L1489.5 1114.4L1490.0 1114.9L1490.5 1113.7L1491.0 1112.7L1491.5 1113.4L1492.0 1115.2L1492.5 1115.5L1492.6 1114.5L1493.0 1114.2L1493.5 1114.2L1494.0 1114.3L1494.5 1114.7L1495.0 1114.7L1495.5 1114.2L1496.0 1114.1L1496.5 1114.2L1497.0 1113.9L1497.5 1113.8L1498.0 1113.5L1498.5 1112.8L1499.0 1112.9L1499.5 1113.3L1500.0 1113.1L1500.5 1112.3L1501.0 1112.8L1501.5 1114.4L1502.0 1114.9L1502.5 1114.8L1503.0 1114.9L1503.5 1114.0L1504.0 1113.3L1504.5 1112.7L1505.0 1111.5L1505.5 1111.8L1506.0 1113.0L1506.5 1112.7L1507.0 1112.1L1507.5 1113.1L1508.0 1113.8L1508.5 1113.5L1509.0 1112.6L1509.5 1112.1L1510.0 1112.5L1510.5 1112.8L1511.0 1112.7L1511.1 1113.0L1511.5 1113.1L1512.0 1112.3L1512.5 1111.7L1513.0 1113.3L1513.5 1114.1L1514.0 1112.5L1514.5 1111.8L1515.0 1112.6L1515.5 1112.4L1516.0 1112.5L1516.5 1113.0L1517.0 1112.7L1517.5 1112.7L1518.0 1113.0L1518.5 1114.0L1519.0 1114.1L1519.5 1113.4L1520.0 1113.7L1520.5 1114.3L1521.0 1114.7L1521.5 1114.8L1522.0 1114.3L1522.5 1114.0L1523.0 1113.9L1523.5 1113.8L1524.0 1114.7L1524.5 1115.7L1525.0 1115.4L1525.5 1114.6L1526.0 1114.8L1526.5 1115.4L1527.0 1115.1L1527.5 1114.8L1528.0 1115.0L1528.5 1115.5L1529.0 1115.6L1529.5 1115.2L1530.0 1115.4L1530.5 1116.0L1531.0 1116.0L1531.3 1115.8L1531.5 1115.6L1532.0 1115.6L1532.5 1115.7L1533.0 1115.7L1533.5 1116.6L1534.0 1117.5L1534.5 1116.0L1535.0 1114.8L1535.5 1115.0L1536.0 1115.5L1536.5 1116.6L1537.0 1118.0L1537.5 1118.3L1538.0 1116.6L1538.5 1115.3L1539.0 1115.8L1539.5 1116.0L1540.0 1115.9L1540.5 1116.3L1541.0 1116.9L1541.5 1117.3L1542.0 1117.8L1542.5 1117.9L1543.0 1117.5L1543.5 1117.9L1544.0 1118.2L1544.5 1118.1L1545.0 1118.3L1545.5 1118.2L1546.0 1118.3L1546.5 1119.0L1547.0 1119.3L1547.5 1118.8L1548.0 1118.5L1548.1 1118.0L1548.5 1117.8L1549.0 1118.2L1549.5 1118.0L1550.0 1118.0L1550.5 1118.2L1551.0 1118.2L1551.5 1118.3L1552.0 1118.0L1552.5 1117.0L1553.0 1116.5L1553.5 1117.5L1554.0 1117.7L1554.5 1117.3L1555.0 1118.1L1555.5 1119.1L1556.0 1118.6L1556.5 1117.8L1557.0 1118.1L1557.5 1118.7L1558.0 1117.5L1558.5 1117.2L1559.0 1118.8L1559.5 1118.9L1560.0 1119.0L1560.5 1119.4L1561.0 1118.9L1561.5 1118.4L1562.0 1118.7L1562.5 1119.1L1563.0 1118.6L1563.5 1118.7L1564.0 1119.1L1564.5 1118.5L1565.0 1118.6L1565.5 1119.3L1566.0 1119.0L1566.5 1118.1L1567.0 1117.5L1567.5 1117.7L1568.0 1119.0L1568.5 1118.6L1569.0 1117.1L1569.5 1117.6L1570.0 1119.7L1570.5 1121.2L1571.0 1121.1L1571.5 1120.3L1571.6 1119.6L1572.0 1118.9L1572.5 1118.5L1573.0 1117.8L1573.5 1117.9L1574.0 1119.4L1574.5 1120.5L1575.0 1120.1L1575.5 1119.2L1576.0 1118.4L1576.5 1118.2L1577.0 1118.8L1577.5 1119.1L1578.0 1118.9L1578.5 1118.7L1579.0 1118.5L1579.5 1118.5L1580.0 1119.7L1580.5 1120.8L1581.0 1121.3L1581.5 1121.5L1582.0 1120.8L1582.5 1120.4L1583.0 1120.0L1583.5 1120.2L1584.0 1121.4L1584.5 1121.3L1585.0 1119.9L1585.5 1119.5L1586.0 1120.5L1586.5 1121.0L1587.0 1120.6L1587.5 1120.4L1588.0 1120.2L1588.5 1120.7L1589.0 1121.8L1589.5 1121.4L1590.0 1120.0L1590.5 1119.7L1591.0 1119.4L1591.5 1119.6L1592.0 1120.4L1592.5 1119.3L1593.0 1118.6L1593.5 1120.7L1594.0 1122.7L1594.5 1122.7L1595.0 1121.9L1595.5 1121.0L1596.0 1119.5L1596.5 1119.7L1597.0 1121.4L1597.5 1122.2L1598.0 1122.7L1598.5 1122.4L1599.0 1122.2L1599.5 1122.6L1600.0 1123.0L1600.5 1122.6L1601.0 1121.6L1601.5 1121.3L1602.0 1121.6L1602.5 1121.9L1603.0 1121.6L1603.5 1120.9L1604.0 1120.7L1604.5 1121.7L1605.0 1122.8L1605.2 1121.6L1605.5 1119.3L1606.0 1120.2L1606.5 1122.3L1607.0 1122.1L1607.5 1121.8L1608.0 1122.4L1608.5 1121.9L1609.0 1121.1L1609.5 1121.8L1610.0 1122.3L1610.5 1121.7L1611.0 1121.8L1611.5 1121.6L1612.0 1121.8L1612.5 1122.4L1613.0 1121.9L1613.5 1121.7L1614.0 1121.0L1614.5 1120.3L1615.0 1121.2L1615.5 1122.1L1616.0 1121.8L1616.5 1121.7L1617.0 1121.7L1617.5 1121.3L1618.0 1121.1L1618.5 1120.6L1619.0 1119.8L1619.5 1119.7L1620.0 1120.0L1620.5 1121.0L1621.0 1121.4L1621.5 1121.2L1622.0 1121.7L1622.5 1121.9L1623.0 1121.5L1623.5 1121.3L1624.0 1121.9L1624.5 1122.0L1625.0 1120.9L1625.5 1120.9L1626.0 1121.0L1626.5 1119.2L1627.0 1118.1L1627.5 1119.2L1628.0 1120.9L1628.5 1121.6L1629.0 1121.7L1629.5 1122.0L1630.0 1122.9L1630.5 1123.3L1631.0 1122.2L1631.5 1121.0L1632.0 1120.9L1632.5 1120.7L1633.0 1120.3L1633.5 1120.4L1634.0 1121.1L1634.5 1121.7L1635.0 1121.1L1635.5 1120.0L1636.0 1119.6L1636.5 1120.0L1637.0 1120.8L1637.5 1121.5L1638.0 1121.3L1638.5 1121.0L1638.8 1121.5L1639.0 1122.5L1639.5 1122.9L1640.0 1122.1L1640.5 1121.7L1641.0 1122.3L1641.5 1121.9L1642.0 1121.5L1642.5 1121.9L1643.0 1121.2L1643.5 1120.5L1644.0 1121.3L1644.5 1121.0L1645.0 1119.3L1645.5 1119.1L1646.0 1120.7L1646.5 1121.8L1647.0 1121.3L1647.5 1120.2L1648.0 1120.6L1648.5 1120.8L1649.0 1120.2L1649.5 1120.6L1650.0 1121.4L1650.5 1120.8L1651.0 1119.6L1651.5 1120.8L1652.0 1122.0L1652.5 1121.0L1653.0 1120.7L1653.5 1121.0L1654.0 1120.9L1654.5 1121.4L1655.0 1120.9L1655.5 1119.8L1656.0 1119.6L1656.5 1119.9L1657.0 1120.1L1657.2 1119.7"/>
<path class="c" stroke="#f43c3c" stroke-width="4.2" d="M338.5 1098.6L339.0 1097.6L339.5 1096.7L340.0 1095.8L340.5 1095.1L341.0 1094.5L341.5 1094.1L342.0 1093.7L342.5 1093.4L343.0 1093.1L343.5 1092.9L344.0 1092.6L344.5 1092.3L345.0 1092.0L345.2 1091.9L345.5 1091.7L346.0 1091.3L346.5 1090.9L347.0 1090.5L347.5 1090.1L348.0 1089.6L348.5 1089.2L349.0 1088.8L349.5 1088.4L350.0 1088.0L350.5 1087.6L351.0 1087.1L351.5 1086.7L352.0 1086.2L352.5 1085.7L353.0 1085.2L353.5 1084.8L354.0 1084.4L354.5 1084.1L355.0 1083.8L355.5 1083.6L356.0 1083.5L356.2 1083.5L356.5 1083.5L357.0 1083.5L357.5 1083.6L358.0 1083.6L358.5 1083.7L359.0 1083.8L359.5 1083.8L360.0 1083.9L360.5 1084.0L361.0 1084.0L361.5 1084.0L362.0 1084.1L362.5 1084.1L363.0 1084.2L363.5 1084.2L364.0 1084.3L364.5 1084.3L365.0 1084.3L365.4 1084.3L365.5 1084.3L366.0 1084.2L366.5 1084.1L367.0 1083.9L367.5 1083.6L368.0 1083.3L368.5 1083.0L369.0 1082.6L369.5 1082.3L370.0 1082.0L370.5 1081.7L371.0 1081.4L371.5 1081.2L372.0 1080.9L372.5 1080.6L373.0 1080.3L373.5 1080.0L374.0 1079.6L374.5 1079.3L375.0 1078.8L375.5 1078.4L376.0 1078.0L376.5 1077.5L377.0 1077.0L377.5 1076.4L378.0 1075.6L378.5 1074.5L378.9 1073.4L379.0 1072.9L379.5 1067.1L380.0 1059.2L380.2 1056.6L380.5 1052.8L381.0 1046.4L381.5 1042.6L381.6 1042.5L382.0 1042.6L382.5 1043.0L383.0 1043.5L383.5 1044.0L384.0 1044.8L384.5 1045.8L385.0 1046.8L385.5 1047.3L385.6 1047.3L386.0 1046.7L386.5 1044.8L387.0 1042.3L387.5 1040.0L388.0 1038.0L388.5 1035.8L389.0 1033.7L389.5 1032.0L389.8 1031.3L390.0 1030.9L390.5 1030.0L391.0 1029.2L391.5 1028.5L392.0 1027.9L392.5 1027.4L393.0 1027.0L393.5 1026.6L394.0 1026.2L394.5 1025.8L395.0 1025.5L395.5 1025.2L396.0 1024.9L396.5 1024.7L397.0 1024.6L397.4 1024.6L397.5 1024.6L398.0 1024.8L398.5 1025.1L399.0 1025.7L399.5 1026.4L400.0 1027.4L400.5 1028.5L400.7 1029.0L401.0 1030.9L401.5 1037.4L402.0 1044.5L402.4 1048.1L402.5 1048.6L403.0 1050.7L403.5 1052.5L404.0 1053.8L404.5 1054.7L404.9 1054.9L405.0 1054.9L405.5 1054.6L406.0 1054.1L406.5 1053.5L407.0 1052.7L407.5 1052.0L408.0 1051.3L408.5 1050.6L409.0 1049.8L409.5 1048.9L410.0 1048.0L410.5 1047.1L410.8 1046.5L411.0 1046.1L411.5 1045.0L412.0 1043.9L412.5 1042.7L413.0 1041.4L413.5 1040.1L414.0 1038.8L414.5 1037.4L415.0 1036.0L415.5 1034.6L416.0 1033.3L416.5 1031.9L417.0 1030.4L417.5 1028.9L418.0 1027.3L418.5 1025.6L419.0 1023.7L419.2 1022.9L419.5 1021.7L420.0 1019.6L420.5 1017.4L421.0 1015.0L421.5 1012.2L422.0 1009.2L422.5 1005.6L423.0 1001.5L423.4 997.7L423.5 996.6L424.0 989.1L424.5 978.7L425.0 966.6L425.1 964.1L425.5 952.8L426.0 935.8L426.5 916.8L426.8 905.0L427.0 897.4L427.5 876.9L427.8 860.0L428.0 842.2L428.5 773.4L428.9 720.0L429.0 709.6L429.5 665.4L430.0 621.4L430.2 600.0L430.5 557.5L431.0 475.9L431.2 450.0L431.5 418.7L432.0 377.7L432.1 372.0L432.5 354.7L432.9 342.0L433.0 338.8L433.3 332.1L433.5 332.1L434.0 332.1L434.5 332.1L435.0 332.1L435.3 332.1L435.5 335.6L435.7 342.0L436.0 351.5L436.5 372.0L437.0 403.7L437.5 442.4L437.6 450.0L438.0 481.9L438.5 524.3L439.0 563.0L439.2 576.0L439.5 592.9L440.0 617.4L440.5 640.0L441.0 660.9L441.5 680.2L442.0 700.7L442.4 720.0L442.5 725.6L443.0 759.9L443.5 800.3L444.0 840.6L444.5 874.5L444.6 880.0L445.0 899.9L445.5 920.9L445.8 930.4L446.0 935.6L446.5 947.5L447.0 957.9L447.5 966.8L448.0 974.1L448.5 979.9L448.6 980.9L449.0 984.6L449.5 988.7L450.0 992.3L450.5 995.1L451.0 997.2L451.2 997.7L451.5 998.4L452.0 999.4L452.5 1000.4L453.0 1001.1L453.5 1001.6L454.0 1001.9L454.2 1001.9L454.5 1001.7L455.0 1000.8L455.5 999.2L456.0 997.2L456.5 994.8L457.0 992.4L457.5 990.0L458.0 987.3L458.5 984.2L459.0 980.8L459.5 977.7L460.0 975.0L460.5 972.6L461.0 970.1L461.5 968.0L462.0 966.7L462.3 966.5L462.5 966.7L463.0 968.4L463.5 971.6L464.0 975.7L464.5 980.0L465.0 985.6L465.5 992.9L466.0 1000.7L466.3 1005.0L466.5 1007.8L467.0 1015.0L467.5 1022.2L468.0 1029.0L468.5 1034.9L468.6 1036.0L469.0 1040.0L469.5 1044.7L470.0 1048.8L470.5 1052.0L471.0 1054.5L471.5 1056.9L472.0 1059.0L472.5 1060.9L473.0 1062.6L473.5 1064.1L474.0 1065.5L474.5 1066.6L474.7 1067.0L475.0 1067.6L475.5 1068.5L476.0 1069.5L476.5 1070.3L477.0 1071.2L477.5 1072.0L478.0 1072.6L478.5 1073.3L479.0 1073.8L479.5 1074.1L480.0 1074.4L480.5 1074.5L480.6 1074.5L481.0 1074.5L481.5 1074.3L482.0 1074.0L482.5 1073.6L483.0 1073.2L483.5 1072.6L484.0 1072.0L484.5 1071.2L485.0 1070.5L485.5 1069.7L486.0 1068.9L486.5 1068.0L487.0 1067.0L487.5 1065.6L488.0 1064.1L488.5 1062.3L489.0 1060.3L489.5 1058.3L490.0 1056.1L490.5 1054.0L491.0 1051.7L491.5 1049.2L492.0 1046.5L492.5 1043.7L493.0 1040.8L493.2 1039.7L493.5 1038.0L494.0 1035.2L494.5 1032.4L495.0 1029.5L495.5 1026.6L496.0 1023.7L496.5 1020.7L497.0 1017.7L497.5 1014.5L498.0 1011.3L498.5 1007.9L499.0 1004.4L499.5 1000.7L499.9 997.7L500.0 996.9L500.5 992.9L501.0 988.6L501.5 984.2L502.0 979.5L502.5 974.6L503.0 969.5L503.5 964.3L504.0 958.8L504.5 953.1L505.0 947.3L505.5 941.6L506.0 936.0L506.5 930.2L507.0 923.6L507.5 915.9L508.0 906.5L508.3 900.0L508.5 894.6L509.0 874.6L509.5 847.4L510.0 815.4L510.5 780.8L511.0 746.2L511.4 720.0L511.5 713.7L512.0 682.1L512.5 647.5L512.6 640.0L513.0 605.7L513.5 560.0L514.0 519.1L514.5 478.0L514.8 450.0L515.0 426.3L515.4 380.0L515.5 372.7L516.0 344.8L516.2 336.0L516.5 322.3L516.8 315.0L517.0 315.0L517.5 315.0L518.0 315.0L518.5 315.0L519.0 315.0L519.2 315.0L519.5 321.9L519.8 332.0L520.0 336.1L520.5 344.9L521.0 352.4L521.4 358.0L521.5 359.4L522.0 366.2L522.5 372.7L523.0 378.7L523.5 384.0L523.6 385.0L524.0 388.8L524.5 393.3L525.0 397.5L525.5 401.4L526.0 404.9L526.5 408.0L527.0 411.0L527.5 414.0L528.0 416.8L528.5 419.1L529.0 420.6L529.4 421.0L529.5 421.0L530.0 420.3L530.5 418.9L531.0 416.9L531.5 414.5L532.0 412.0L532.5 409.0L533.0 405.1L533.5 400.5L534.0 395.3L534.5 389.7L535.0 383.7L535.3 380.0L535.5 377.4L536.0 369.7L536.5 361.1L537.0 352.0L537.5 343.1L538.0 335.0L538.5 327.6L539.0 320.3L539.5 313.4L540.0 306.9L540.5 301.1L540.6 300.0L541.0 296.1L541.5 291.7L542.0 287.6L542.5 283.0L542.6 282.0L543.0 276.3L543.5 271.5L544.0 271.5L544.5 271.5L545.0 271.5L545.3 271.5L545.5 272.3L546.0 278.8L546.2 282.0L546.5 287.8L547.0 301.1L547.5 316.8L547.6 320.0L548.0 333.9L548.5 353.7L549.0 375.5L549.1 380.0L549.5 400.0L550.0 428.1L550.5 455.5L550.8 470.0L551.0 478.6L551.5 498.0L552.0 515.7L552.5 533.2L553.0 551.8L553.2 560.0L553.5 573.2L554.0 597.0L554.5 621.4L554.9 640.0L555.0 644.5L555.5 667.2L556.0 689.4L556.5 709.6L556.8 720.0L557.0 726.4L557.5 741.9L558.0 756.5L558.5 770.2L559.0 782.8L559.5 794.3L560.0 804.5L560.5 813.4L560.6 815.0L561.0 821.1L561.5 828.2L562.0 834.8L562.5 840.8L563.0 846.5L563.5 851.7L564.0 856.7L564.5 861.3L565.0 865.8L565.5 870.0L566.0 874.1L566.5 878.0L567.0 881.7L567.5 885.2L568.0 888.5L568.5 891.7L569.0 894.8L569.5 897.7L570.0 900.4L570.3 902.0L570.5 903.0L571.0 905.6L571.5 908.0L572.0 910.3L572.5 912.6L573.0 914.8L573.5 916.9L574.0 919.0L574.5 921.0L575.0 923.0L575.5 924.9L576.0 926.8L576.5 928.7L577.0 930.5L577.5 932.4L578.0 934.2L578.5 936.0L579.0 937.8L579.5 939.6L580.0 941.3L580.5 943.0L581.0 944.7L581.5 946.4L582.0 948.0L582.5 949.6L583.0 951.2L583.5 952.8L584.0 954.4L584.5 955.9L585.0 957.5L585.5 959.0L586.0 960.5L586.5 962.0L587.0 963.5L587.5 965.0L588.0 966.5L588.5 968.0L589.0 969.5L589.5 971.0L590.0 972.4L590.5 973.9L591.0 975.3L591.5 976.7L592.0 978.1L592.5 979.5L593.0 980.9L593.5 982.3L594.0 983.7L594.5 985.0L595.0 986.4L595.5 987.7L596.0 989.0L596.5 990.3L597.0 991.7L597.5 993.1L598.0 994.5L598.5 995.8L599.0 997.0L599.5 998.1L600.0 999.0L600.5 999.9L601.0 1000.8L601.5 1001.5L602.0 1002.0L602.2 1002.0L602.5 1001.9L603.0 1001.3L603.5 1000.2L604.0 998.7L604.2 998.0L604.5 996.3L605.0 991.0L605.5 982.9L606.0 972.6L606.2 968.0L606.5 959.6L607.0 938.7L607.5 907.6L607.6 900.0L608.0 848.8L608.5 746.2L608.6 723.0L609.0 600.0L609.5 540.8L609.6 533.0L609.9 515.4L610.0 515.4L610.5 515.4L611.0 515.4L611.5 515.4L611.8 533.0L612.0 549.5L612.4 600.0L612.5 623.8L612.8 723.0L613.0 775.1L613.5 884.9L613.6 900.0L614.0 950.9L614.5 999.9L614.9 1020.3L615.0 1022.7L615.5 1033.0L616.0 1040.7L616.5 1046.4L617.0 1050.6L617.5 1053.9L618.0 1056.8L618.5 1059.4L619.0 1061.7L619.5 1063.7L620.0 1065.5L620.5 1067.1L621.0 1068.5L621.5 1069.8L622.0 1071.0L622.2 1071.4L622.5 1072.0L623.0 1073.1L623.5 1074.0L624.0 1074.9L624.5 1075.8L625.0 1076.6L625.5 1077.3L626.0 1078.0L626.5 1078.5L627.0 1079.0L627.5 1079.3L627.6 1079.4L628.0 1079.6L628.5 1079.9L629.0 1080.2L629.5 1080.4L630.0 1080.7L630.5 1080.9L631.0 1081.1L631.5 1081.2L632.0 1081.3L632.5 1081.4L633.0 1081.4L633.5 1081.4L634.0 1081.3L634.5 1081.2L635.0 1081.0L635.5 1080.8L636.0 1080.5L636.5 1080.3L637.0 1080.0L637.5 1079.7L638.0 1079.3L638.5 1079.0L639.0 1078.6L639.5 1078.2L639.7 1078.1L640.0 1077.9L640.5 1077.4L641.0 1076.9L641.5 1076.4L642.0 1075.8L642.5 1075.1L643.0 1074.4L643.5 1073.7L644.0 1072.9L644.5 1072.1L645.0 1071.2L645.5 1070.3L646.0 1069.4L646.4 1068.7L646.5 1068.5L647.0 1067.5L647.5 1066.5L648.0 1065.4L648.5 1064.2L649.0 1063.0L649.5 1061.7L650.0 1060.4L650.5 1058.9L651.0 1057.4L651.5 1055.8L652.0 1054.2L652.5 1052.4L653.0 1050.6L653.2 1049.9L653.5 1048.7L654.0 1046.6L654.5 1044.2L655.0 1041.7L655.5 1039.0L656.0 1036.1L656.5 1033.1L657.0 1030.0L657.5 1026.9L658.0 1023.6L658.5 1020.3L659.0 1016.8L659.5 1013.0L660.0 1009.0L660.5 1004.9L661.0 1000.7L661.5 996.6L661.9 993.4L662.0 992.6L662.5 988.7L663.0 984.7L663.5 980.8L663.6 980.0L664.0 976.9L664.5 973.0L665.0 969.2L665.5 965.3L666.0 961.3L666.5 957.1L666.8 954.5L667.0 952.7L667.5 947.9L668.0 942.9L668.5 938.0L669.0 932.2L669.5 928.7L670.0 928.7L670.5 928.7L670.8 928.7L671.0 928.9L671.5 931.1L672.0 934.1L672.2 935.0L672.5 936.2L673.0 938.2L673.5 939.9L673.7 940.6L674.0 941.6L674.5 943.1L675.0 944.6L675.5 946.0L676.0 947.4L676.5 948.7L677.0 950.0L677.5 951.3L678.0 952.5L678.5 953.6L678.8 954.3L679.0 954.7L679.5 955.7L680.0 956.6L680.5 957.4L681.0 958.2L681.5 959.2L682.0 960.4L682.3 961.2L682.5 961.8L683.0 963.9L683.5 966.4L684.0 969.2L684.5 972.1L685.0 974.9L685.5 977.7L686.0 980.8L686.5 983.8L687.0 986.6L687.4 988.6L687.5 989.0L688.0 991.1L688.5 993.0L689.0 994.8L689.5 996.5L690.0 998.2L690.5 999.9L691.0 1001.6L691.2 1002.4L691.5 1003.6L692.0 1005.5L692.5 1007.5L693.0 1009.5L693.5 1011.5L694.0 1013.6L694.5 1015.7L694.6 1016.1L695.0 1017.9L695.5 1020.1L696.0 1022.4L696.5 1024.7L697.0 1027.0L697.5 1029.2L698.0 1031.4L698.5 1033.6L699.0 1035.8L699.5 1037.9L700.0 1040.1L700.5 1042.2L700.8 1043.5L701.0 1044.4L701.5 1046.6L702.0 1048.9L702.5 1051.2L703.0 1053.5L703.5 1055.7L704.0 1057.7L704.5 1059.7L705.0 1061.4L705.5 1063.0L706.0 1064.5L706.5 1066.0L707.0 1067.4L707.5 1068.8L708.0 1070.1L708.5 1071.3L709.0 1072.4L709.5 1073.5L710.0 1074.4L710.2 1074.8L710.5 1075.3L711.0 1076.1L711.5 1076.8L712.0 1077.5L712.5 1078.2L713.0 1078.8L713.5 1079.4L714.0 1079.9L714.5 1080.5L715.0 1081.1L715.5 1081.6L716.0 1082.3L716.5 1082.9L717.0 1083.6L717.1 1083.7L717.5 1084.3L718.0 1085.1L718.5 1085.9L719.0 1086.8L719.5 1087.7L720.0 1088.5L720.5 1089.2L721.0 1089.9L721.5 1090.5L722.0 1091.0L722.5 1091.6L723.0 1092.1L723.5 1092.5L724.0 1092.9L724.5 1093.2L725.0 1093.3L725.1 1093.3L725.5 1093.3L726.0 1093.2L726.5 1093.1L727.0 1093.0L727.5 1092.9L728.0 1092.8L728.5 1092.7L729.0 1092.6L729.5 1092.6L729.6 1092.6L730.0 1092.6L730.5 1092.6L731.0 1092.7L731.5 1092.7L732.0 1092.8L732.5 1092.8L733.0 1092.9L733.5 1093.0L734.0 1093.0L734.5 1093.1L735.0 1093.2L735.1 1093.2L735.5 1093.3L736.0 1093.4L736.5 1093.4L737.0 1093.6L737.5 1093.7L738.0 1093.8L738.5 1093.9L739.0 1094.1L739.5 1094.2L740.0 1094.3L740.5 1094.5L741.0 1094.6L741.5 1094.8L742.0 1094.9L742.5 1095.1L743.0 1095.2L743.5 1095.3L744.0 1095.5L744.5 1095.6L745.0 1095.7L745.5 1095.8L746.0 1096.0L746.5 1096.1L747.0 1096.2L747.5 1096.3L748.0 1096.4L748.5 1096.6L749.0 1096.7L749.5 1096.8L750.0 1096.9L750.5 1097.0L751.0 1097.1L751.5 1097.3L752.0 1097.4L752.5 1097.5L753.0 1097.6L753.5 1097.7L754.0 1097.9L754.5 1098.0L755.0 1098.1L755.5 1098.2L756.0 1098.4L756.5 1098.5L757.0 1098.6L757.5 1098.8L758.0 1098.9L758.5 1099.0L759.0 1099.2L759.5 1099.3L760.0 1099.5L760.5 1099.7L761.0 1099.8L761.5 1100.0L762.0 1100.1L762.5 1100.3L763.0 1100.5L763.5 1100.7L764.0 1100.8L764.5 1101.0L765.0 1101.2L765.5 1101.3L766.0 1101.5L766.5 1101.6L767.0 1101.8L767.5 1102.0L768.0 1102.1L768.5 1102.2L768.7 1102.3L769.0 1102.4L769.5 1102.5L770.0 1102.7L770.5 1102.8L771.0 1102.9L771.5 1103.1L772.0 1103.2L772.5 1103.3L773.0 1103.5L773.5 1103.6L774.0 1103.7L774.5 1103.8L775.0 1104.0L775.5 1104.1L776.0 1104.2L776.5 1104.3L777.0 1104.4L777.5 1104.5L778.0 1104.6L778.1 1104.6L778.5 1104.7L779.0 1104.8L779.5 1104.9L780.0 1104.9L780.5 1104.8L781.0 1104.9L781.5 1105.2L782.0 1105.1L782.5 1105.2L783.0 1105.4L783.5 1105.4L784.0 1105.3L784.5 1105.6L785.0 1106.1L785.5 1106.4L786.0 1106.1L786.5 1106.0L787.0 1106.1L787.5 1106.2L788.0 1106.3L788.5 1106.5L789.0 1106.4L789.5 1106.3L790.0 1106.3L790.5 1106.4L791.0 1106.4L791.5 1106.3L791.6 1106.3L792.0 1106.4L792.5 1106.3L793.0 1106.1L793.5 1106.1L794.0 1106.3L794.5 1106.6L795.0 1106.7L795.5 1106.3L796.0 1106.3L796.5 1106.7L797.0 1106.8L797.5 1106.6L798.0 1106.4L798.5 1106.5L799.0 1106.6L799.5 1106.6L800.0 1106.4L800.5 1106.4L801.0 1106.8L801.5 1106.9L802.0 1106.6L802.5 1106.6L803.0 1106.5L803.5 1106.4L804.0 1106.5L804.5 1106.7L805.0 1106.5L805.5 1106.4L806.0 1106.5L806.5 1106.6L807.0 1106.6L807.5 1106.4L808.0 1106.4L808.5 1106.2L809.0 1105.9L809.5 1105.9L810.0 1106.0L810.4 1106.0L810.5 1105.8L811.0 1105.1L811.5 1104.1L812.0 1102.8L812.5 1101.6L813.0 1101.0L813.1 1101.0L813.5 1100.5L814.0 1100.1L814.5 1099.8L815.0 1099.5L815.1 1099.6L815.5 1099.6L816.0 1099.7L816.5 1100.3L817.0 1101.1L817.5 1101.5L817.6 1101.8L818.0 1102.8L818.5 1104.5L819.0 1106.1L819.5 1107.0L819.8 1107.3L820.0 1107.9L820.5 1108.3L821.0 1108.4L821.5 1108.7L822.0 1109.0L822.5 1109.2L823.0 1109.4L823.5 1109.4L823.8 1109.2L824.0 1109.4L824.5 1109.5L825.0 1109.5L825.5 1109.4L826.0 1109.2L826.5 1109.5L827.0 1109.5L827.5 1109.4L828.0 1109.5L828.5 1109.7L829.0 1110.1L829.5 1110.1L830.0 1109.7L830.5 1109.4L831.0 1109.4L831.5 1109.4L832.0 1109.4L832.5 1109.3L833.0 1109.4L833.5 1109.5L833.6 1109.4L834.0 1109.3L834.5 1109.6L835.0 1109.8L835.5 1109.5L836.0 1109.3L836.5 1109.5L837.0 1109.6L837.5 1109.7L838.0 1109.8L838.5 1109.9L839.0 1109.6L839.5 1109.4L840.0 1109.4L840.5 1109.2L841.0 1109.2L841.5 1109.2L842.0 1109.1L842.5 1109.3L843.0 1109.4L843.5 1109.3L844.0 1109.1L844.5 1109.2L845.0 1109.3L845.5 1109.0L846.0 1108.8L846.5 1108.7L847.0 1108.5L847.5 1108.7L848.0 1109.4L848.5 1109.5L849.0 1109.2L849.5 1108.9L850.0 1108.9L850.4 1108.9L850.5 1108.9L851.0 1108.7L851.5 1108.4L852.0 1108.2L852.5 1108.4L853.0 1108.6L853.5 1108.6L854.0 1108.5L854.5 1108.5L855.0 1108.1L855.5 1107.9L856.0 1108.0L856.5 1107.8L857.0 1107.6L857.5 1107.7L858.0 1107.8L858.5 1107.7L859.0 1107.9L859.5 1108.2L860.0 1107.9L860.5 1107.3L861.0 1106.9L861.5 1106.9L862.0 1107.0L862.5 1106.7L863.0 1106.5L863.5 1106.5L863.8 1106.4L864.0 1106.4L864.5 1106.6L865.0 1106.6L865.5 1106.2L866.0 1105.9L866.5 1105.9L867.0 1105.9L867.5 1105.6L868.0 1105.1L868.5 1105.0L869.0 1105.2L869.5 1105.2L870.0 1105.1L870.5 1104.9L871.0 1104.5L871.5 1104.3L872.0 1104.5L872.2 1104.8L872.5 1104.8L873.0 1104.9L873.5 1104.9L874.0 1104.8L874.5 1104.7L875.0 1105.0L875.5 1105.4L876.0 1105.9L876.5 1106.0L877.0 1105.9L877.5 1106.3L878.0 1106.5L878.5 1106.5L879.0 1106.6L879.5 1106.8L880.0 1107.2L880.5 1107.3L880.6 1107.2L881.0 1107.4L881.5 1107.7L882.0 1107.9L882.5 1108.2L883.0 1108.4L883.5 1108.4L884.0 1108.7L884.5 1109.2L885.0 1109.2L885.5 1109.1L886.0 1109.3L886.5 1109.5L887.0 1109.9L887.5 1110.2L888.0 1110.4L888.5 1110.6L889.0 1110.7L889.5 1110.8L890.0 1110.8L890.5 1110.7L891.0 1110.7L891.5 1110.7L892.0 1110.9L892.5 1111.3L893.0 1111.2L893.5 1111.2L894.0 1111.1L894.5 1111.0L894.9 1111.3L895.0 1111.4L895.5 1111.5L896.0 1111.5L896.5 1111.3L897.0 1111.3L897.5 1111.3L898.0 1111.0L898.5 1110.9L899.0 1110.9L899.5 1110.8L900.0 1110.4L900.5 1110.0L901.0 1110.1L901.5 1110.3L902.0 1110.1L902.5 1110.2L903.0 1110.3L903.5 1110.1L904.0 1109.9L904.2 1109.6L904.5 1109.5L905.0 1109.5L905.5 1109.5L906.0 1109.6L906.5 1109.5L907.0 1109.5L907.5 1109.3L908.0 1109.2L908.5 1109.3L909.0 1109.4L909.5 1109.4L910.0 1109.4L910.5 1109.6L911.0 1109.9L911.5 1110.0L912.0 1109.8L912.5 1109.7L913.0 1109.7L913.5 1109.3L914.0 1109.1L914.2 1109.5L914.5 1109.6L915.0 1109.6L915.5 1109.5L916.0 1109.3L916.5 1109.5L917.0 1110.0L917.5 1110.1L918.0 1110.1L918.5 1110.2L919.0 1110.0L919.5 1110.0L920.0 1110.2L920.5 1110.2L921.0 1110.3L921.5 1110.5L922.0 1110.7L922.5 1111.0L923.0 1111.0L923.5 1110.9L924.0 1111.0L924.5 1111.2L925.0 1111.3L925.5 1111.4L926.0 1111.6L926.5 1111.8L927.0 1111.7L927.5 1111.7L927.7 1111.4L928.0 1111.5L928.5 1111.8L929.0 1111.8L929.5 1111.7L930.0 1111.9L930.5 1112.0L931.0 1112.1L931.5 1112.0L932.0 1112.4L932.5 1112.9L933.0 1112.6L933.5 1112.2L934.0 1112.5L934.5 1112.9L935.0 1113.0L935.5 1112.8L936.0 1112.8L936.5 1113.1L937.0 1113.0L937.5 1112.7L938.0 1112.9L938.5 1113.1L939.0 1113.2L939.5 1113.2L940.0 1113.3L940.5 1113.3L941.0 1113.3L941.5 1113.2L942.0 1113.2L942.5 1113.3L943.0 1113.4L943.5 1113.6L944.0 1113.7L944.5 1113.6L945.0 1113.6L945.5 1113.7L946.0 1113.5L946.5 1113.3L947.0 1113.1L947.5 1113.2L948.0 1113.4L948.5 1113.3L949.0 1113.1L949.5 1112.6L950.0 1112.4L950.5 1112.4L951.0 1112.6L951.2 1113.0L951.5 1112.8L952.0 1112.2L952.5 1111.9L953.0 1111.8L953.5 1111.7L954.0 1111.6L954.5 1111.5L955.0 1111.3L955.5 1110.7L956.0 1110.3L956.5 1110.3L957.0 1110.3L957.5 1110.2L957.9 1110.1L958.0 1110.2L958.5 1110.1L959.0 1109.8L959.5 1109.8L960.0 1110.1L960.5 1110.3L961.0 1110.1L961.5 1109.8L962.0 1109.8L962.5 1109.6L963.0 1109.4L963.5 1109.7L964.0 1109.8L964.5 1109.5L965.0 1109.3L965.5 1109.6L966.0 1109.9L966.5 1109.9L967.0 1109.9L967.5 1110.1L968.0 1110.0L968.5 1109.6L969.0 1109.4L969.5 1109.3L970.0 1109.4L970.5 1109.4L971.0 1109.4L971.5 1109.5L972.0 1109.4L972.5 1109.3L973.0 1109.2L973.5 1108.8L974.0 1108.8L974.5 1109.1L975.0 1109.2L975.5 1109.3L976.0 1109.3L976.5 1109.2L977.0 1109.1L977.5 1109.1L978.0 1109.2L978.5 1109.2L979.0 1109.1L979.5 1108.9L980.0 1108.8L980.5 1109.0L981.0 1109.1L981.5 1108.8L982.0 1108.6L982.5 1108.9L983.0 1109.0L983.5 1108.8L984.0 1108.8L984.5 1109.0L984.8 1109.0L985.0 1109.1L985.5 1109.2L986.0 1109.1L986.5 1109.1L987.0 1109.1L987.5 1109.0L988.0 1108.8L988.5 1108.7L989.0 1108.9L989.5 1109.3L990.0 1109.3L990.5 1109.2L991.0 1109.2L991.5 1109.1L992.0 1109.1L992.5 1108.9L993.0 1108.7L993.5 1108.9L994.0 1109.0L994.5 1109.1L995.0 1109.5L995.5 1109.7L996.0 1109.4L996.5 1109.3L997.0 1109.4L997.5 1109.4L998.0 1109.3L998.2 1109.1L998.5 1109.1L999.0 1109.2L999.5 1109.2L1000.0 1109.2L1000.5 1109.4L1001.0 1109.7L1001.5 1109.8L1002.0 1110.0L1002.5 1109.9L1003.0 1109.7L1003.5 1109.9L1004.0 1110.4L1004.5 1110.5L1005.0 1110.4L1005.5 1110.5L1006.0 1110.6L1006.5 1110.7L1007.0 1110.9L1007.5 1110.9L1008.0 1110.6L1008.5 1110.6L1009.0 1111.0L1009.5 1111.3L1010.0 1111.3L1010.5 1111.0L1011.0 1111.2L1011.5 1111.5L1012.0 1111.4L1012.5 1111.4L1013.0 1111.5L1013.5 1111.4L1014.0 1111.6L1014.5 1111.7L1015.0 1111.5L1015.5 1111.4L1016.0 1111.8L1016.5 1112.1L1017.0 1112.2L1017.5 1112.2L1018.0 1112.2L1018.5 1112.3L1019.0 1112.5L1019.5 1112.6L1020.0 1112.4L1020.5 1112.2L1021.0 1112.5L1021.5 1112.5L1022.0 1112.3L1022.5 1112.3L1023.0 1112.5L1023.5 1112.8L1024.0 1112.6L1024.5 1112.3L1025.0 1112.5L1025.5 1112.7L1026.0 1112.9L1026.5 1112.7L1027.0 1112.4L1027.5 1112.4L1028.0 1112.5L1028.5 1112.5L1029.0 1112.4L1029.5 1112.4L1030.0 1112.6L1030.1 1112.6L1030.5 1112.6L1031.0 1113.0L1031.5 1113.1L1032.0 1113.0L1032.5 1112.9L1033.0 1112.6L1033.5 1112.6L1034.0 1112.7L1034.5 1112.6L1035.0 1112.5L1035.5 1112.5L1036.0 1112.6L1036.5 1112.6L1037.0 1112.9L1037.5 1113.1L1038.0 1112.7L1038.5 1112.4L1039.0 1112.1L1039.5 1112.1L1040.0 1112.5L1040.5 1112.4L1041.0 1112.3L1041.5 1112.5L1042.0 1112.7L1042.5 1112.8L1043.0 1112.8L1043.5 1112.4L1044.0 1112.1L1044.5 1112.2L1045.0 1112.3L1045.5 1112.2L1046.0 1112.1L1046.5 1112.3L1047.0 1112.4L1047.5 1112.1L1048.0 1111.9L1048.5 1111.9L1049.0 1111.9L1049.5 1112.1L1050.0 1112.1L1050.5 1111.9L1051.0 1111.8L1051.5 1112.0L1052.0 1112.3L1052.5 1112.1L1053.0 1111.7L1053.5 1111.6L1054.0 1111.8L1054.5 1111.8L1055.0 1111.7L1055.5 1111.8L1056.0 1111.9L1056.5 1112.0L1057.0 1111.9L1057.5 1111.7L1058.0 1111.6L1058.5 1111.6L1059.0 1111.7L1059.5 1111.7L1060.0 1111.5L1060.5 1111.5L1061.0 1111.6L1061.5 1111.8L1062.0 1111.6L1062.5 1111.5L1063.0 1111.4L1063.5 1111.2L1064.0 1111.2L1064.5 1111.2L1065.0 1111.2L1065.5 1111.3L1066.0 1111.4L1066.5 1111.3L1067.0 1111.0L1067.5 1110.8L1068.0 1110.7L1068.5 1110.6L1069.0 1110.6L1069.5 1110.8L1070.0 1110.8L1070.5 1110.6L1071.0 1110.3L1071.5 1110.0L1072.0 1110.0L1072.1 1110.4L1072.5 1110.7L1073.0 1110.7L1073.5 1110.4L1074.0 1110.2L1074.5 1110.2L1075.0 1110.3L1075.5 1110.3L1076.0 1110.2L1076.5 1110.0L1077.0 1109.9L1077.5 1110.0L1078.0 1109.9L1078.5 1109.5L1079.0 1109.2L1079.5 1109.3L1080.0 1109.6L1080.5 1109.7L1081.0 1109.6L1081.5 1109.5L1082.0 1109.5L1082.5 1109.6L1083.0 1109.6L1083.5 1109.6L1084.0 1109.7L1084.5 1109.8L1085.0 1109.5L1085.5 1109.1L1086.0 1109.0L1086.5 1109.1L1087.0 1109.0L1087.5 1109.1L1088.0 1109.2L1088.5 1109.2L1089.0 1108.9L1089.5 1108.8L1090.0 1108.9L1090.5 1109.0L1091.0 1109.1L1091.5 1109.5L1092.0 1109.6L1092.3 1109.2L1092.5 1109.1L1093.0 1109.5L1093.5 1109.4L1094.0 1109.1L1094.5 1109.0L1095.0 1109.2L1095.5 1109.5L1096.0 1109.4L1096.5 1109.2L1097.0 1109.1L1097.5 1109.2L1098.0 1109.3L1098.5 1109.5L1099.0 1109.5L1099.5 1109.2L1100.0 1109.2L1100.5 1109.3L1101.0 1109.4L1101.5 1109.3L1102.0 1109.1L1102.5 1109.2L1103.0 1109.4L1103.5 1109.7L1104.0 1109.8L1104.5 1109.8L1105.0 1109.6L1105.5 1109.4L1106.0 1109.5L1106.5 1109.4L1107.0 1109.4L1107.5 1109.5L1108.0 1109.7L1108.5 1109.6L1109.0 1109.3L1109.5 1109.2L1110.0 1109.4L1110.5 1109.5L1111.0 1109.6L1111.5 1109.4L1112.0 1109.2L1112.5 1109.4L1113.0 1109.8L1113.5 1109.7L1113.6 1109.5L1114.0 1109.5L1114.5 1109.6L1115.0 1109.7L1115.5 1109.7L1116.0 1109.7L1116.5 1109.7L1117.0 1109.6L1117.5 1109.8L1118.0 1109.9L1118.5 1109.6L1119.0 1109.5L1119.5 1109.3L1120.0 1109.1L1120.5 1109.4L1121.0 1109.7L1121.5 1109.8L1122.0 1109.6L1122.5 1109.4L1123.0 1109.4L1123.5 1109.4L1124.0 1109.3L1124.5 1109.2L1125.0 1109.4L1125.5 1109.8L1126.0 1110.1L1126.5 1110.0L1127.0 1109.7L1127.5 1109.7L1128.0 1109.7L1128.5 1109.4L1129.0 1109.2L1129.5 1109.4L1130.0 1109.6L1130.5 1109.6L1131.0 1109.5L1131.5 1109.5L1132.0 1109.6L1132.5 1109.7L1133.0 1109.8L1133.5 1109.8L1134.0 1109.7L1134.5 1109.7L1135.0 1109.8L1135.5 1109.7L1136.0 1109.5L1136.5 1109.6L1137.0 1109.6L1137.5 1109.6L1138.0 1109.7L1138.5 1109.8L1139.0 1109.7L1139.5 1109.6L1140.0 1109.8L1140.5 1109.9L1141.0 1109.7L1141.5 1109.6L1142.0 1109.7L1142.5 1109.8L1143.0 1109.9L1143.5 1109.9L1143.8 1109.7L1144.0 1109.5L1144.5 1109.4L1145.0 1109.7L1145.5 1110.1L1146.0 1110.3L1146.5 1110.1L1147.0 1109.6L1147.5 1109.5L1148.0 1109.8L1148.5 1109.8L1149.0 1109.8L1149.5 1110.0L1150.0 1110.0L1150.5 1109.7L1151.0 1109.7L1151.5 1110.0L1152.0 1110.1L1152.5 1109.9L1153.0 1109.9L1153.5 1110.1L1154.0 1110.4L1154.5 1110.5L1155.0 1110.7L1155.5 1110.6L1156.0 1110.4L1156.5 1110.4L1157.0 1110.2L1157.5 1110.0L1158.0 1110.1L1158.5 1110.2L1159.0 1110.1L1159.5 1110.0L1160.0 1110.2L1160.5 1110.4L1161.0 1110.2L1161.5 1110.0L1162.0 1110.2L1162.5 1110.6L1163.0 1110.6L1163.5 1110.4L1164.0 1110.4L1164.5 1110.3L1165.0 1110.5L1165.5 1110.9L1166.0 1110.8L1166.5 1110.3L1167.0 1110.1L1167.5 1110.1L1168.0 1109.9L1168.5 1109.9L1169.0 1110.3L1169.5 1110.5L1170.0 1110.5L1170.5 1110.4L1171.0 1110.2L1171.5 1110.3L1172.0 1110.2L1172.5 1110.3L1173.0 1110.4L1173.5 1110.6L1174.0 1110.7L1174.5 1110.4L1175.0 1110.0L1175.5 1109.9L1176.0 1110.0L1176.5 1109.8L1177.0 1109.7L1177.5 1109.9L1178.0 1110.1L1178.5 1109.9L1179.0 1109.7L1179.5 1109.7L1180.0 1109.5L1180.5 1109.6L1181.0 1110.0L1181.5 1110.1L1182.0 1110.0L1182.5 1109.7L1183.0 1109.7L1183.5 1109.9L1184.0 1110.0L1184.1 1109.8L1184.5 1109.5L1185.0 1109.6L1185.5 1109.5L1186.0 1109.4L1186.5 1109.4L1187.0 1109.4L1187.5 1109.3L1188.0 1109.0L1188.5 1108.6L1189.0 1108.5L1189.5 1108.4L1190.0 1108.3L1190.5 1108.4L1191.0 1108.1L1191.5 1107.8L1192.0 1107.8L1192.5 1107.7L1193.0 1107.6L1193.5 1107.5L1194.0 1107.3L1194.5 1106.8L1195.0 1106.2L1195.5 1106.0L1196.0 1106.1L1196.5 1106.5L1197.0 1106.7L1197.5 1106.2L1197.6 1106.0L1198.0 1106.2L1198.5 1106.2L1199.0 1106.0L1199.5 1106.0L1200.0 1105.9L1200.5 1105.7L1201.0 1105.8L1201.5 1105.7L1202.0 1105.5L1202.5 1105.8L1203.0 1106.1L1203.5 1106.3L1204.0 1106.0L1204.5 1105.6L1205.0 1105.4L1205.5 1105.6L1206.0 1105.5L1206.5 1105.5L1207.0 1105.4L1207.5 1105.4L1208.0 1105.3L1208.5 1105.2L1209.0 1105.1L1209.5 1105.0L1210.0 1104.9L1210.5 1104.8L1211.0 1104.7L1211.5 1103.9L1212.0 1101.9L1212.5 1099.3L1213.0 1096.3L1213.5 1093.4L1214.0 1090.9L1214.4 1089.5L1214.5 1089.2L1215.0 1087.9L1215.5 1086.6L1216.0 1085.5L1216.5 1084.8L1216.9 1084.6L1217.0 1084.6L1217.5 1085.3L1218.0 1086.8L1218.5 1088.8L1219.0 1090.9L1219.5 1092.9L1220.0 1094.4L1220.3 1095.0L1220.5 1095.3L1221.0 1096.0L1221.5 1096.6L1222.0 1097.2L1222.5 1097.7L1223.0 1098.2L1223.5 1098.5L1224.0 1098.7L1224.5 1098.8L1225.0 1098.8L1225.5 1098.7L1226.0 1098.6L1226.5 1098.5L1227.0 1098.3L1227.5 1098.1L1228.0 1097.8L1228.5 1097.5L1229.0 1097.2L1229.5 1096.8L1230.0 1096.5L1230.5 1096.0L1231.0 1095.6L1231.2 1095.4L1231.5 1095.0L1232.0 1093.9L1232.5 1092.3L1233.0 1090.4L1233.5 1088.3L1234.0 1086.1L1234.5 1083.9L1235.0 1081.8L1235.4 1080.3L1235.5 1079.9L1236.0 1078.1L1236.5 1076.2L1237.0 1074.3L1237.5 1072.4L1238.0 1070.6L1238.5 1068.9L1239.0 1067.5L1239.5 1066.4L1239.6 1066.2L1240.0 1065.5L1240.5 1064.6L1241.0 1063.8L1241.5 1063.1L1242.0 1062.6L1242.5 1062.4L1242.6 1062.4L1243.0 1062.6L1243.5 1063.5L1244.0 1064.9L1244.5 1066.5L1245.0 1068.3L1245.5 1070.0L1246.0 1072.0L1246.5 1074.5L1247.0 1077.3L1247.5 1079.9L1248.0 1082.0L1248.5 1083.4L1248.8 1083.7L1249.0 1083.7L1249.5 1083.8L1250.0 1083.9L1250.5 1084.0L1251.0 1084.0L1251.5 1084.0L1252.0 1082.7L1252.5 1079.5L1253.0 1075.8L1253.5 1072.9L1253.9 1072.0L1254.0 1072.4L1254.2 1073.6L1254.5 1072.3L1255.0 1065.2L1255.5 1054.4L1256.0 1042.3L1256.1 1040.0L1256.5 1029.5L1257.0 1013.6L1257.4 1000.0L1257.5 996.5L1258.0 978.0L1258.5 958.1L1258.7 950.0L1259.0 936.3L1259.4 920.0L1259.5 917.0L1259.8 911.2L1260.0 911.2L1260.5 911.2L1261.0 911.2L1261.4 911.2L1261.5 912.1L1261.8 920.0L1262.0 925.8L1262.5 943.1L1262.7 950.0L1263.0 960.1L1263.5 977.2L1264.0 993.7L1264.2 1000.0L1264.5 1009.5L1265.0 1025.2L1265.5 1038.0L1265.6 1040.0L1266.0 1047.0L1266.5 1054.7L1267.0 1061.3L1267.5 1066.9L1268.0 1071.8L1268.2 1073.6L1268.5 1076.2L1269.0 1080.3L1269.5 1084.1L1270.0 1087.5L1270.5 1090.4L1271.0 1092.6L1271.4 1093.8L1271.5 1094.0L1272.0 1095.1L1272.5 1096.0L1273.0 1096.8L1273.5 1097.6L1274.0 1098.2L1274.5 1098.7L1275.0 1099.1L1275.5 1099.4L1275.7 1099.5L1276.0 1099.6L1276.5 1099.8L1277.0 1100.0L1277.5 1100.2L1278.0 1100.4L1278.5 1100.5L1279.0 1100.7L1279.5 1100.8L1280.0 1101.0L1280.5 1101.0L1281.0 1100.8L1281.5 1100.5L1281.6 1100.4L1282.0 1100.6L1282.5 1101.2L1283.0 1101.4L1283.5 1101.0L1284.0 1101.2L1284.5 1101.2L1285.0 1100.9L1285.5 1101.0L1286.0 1101.1L1286.5 1101.0L1287.0 1101.2L1287.5 1101.1L1288.0 1100.9L1288.5 1100.6L1289.0 1100.5L1289.5 1100.8L1290.0 1100.9L1290.5 1100.7L1291.0 1100.8L1291.5 1101.0L1292.0 1100.8L1292.5 1100.7L1293.0 1100.9L1293.5 1101.1L1294.0 1100.9L1294.5 1100.7L1295.0 1100.9L1295.5 1100.9L1296.0 1100.9L1296.5 1100.7L1297.0 1100.2L1297.5 1100.1L1298.0 1100.2L1298.5 1100.2L1299.0 1100.0L1299.5 1100.6L1300.0 1101.1L1300.5 1100.6L1301.0 1100.0L1301.5 1100.0L1302.0 1100.5L1302.5 1100.8L1303.0 1100.8L1303.5 1100.7L1304.0 1100.4L1304.5 1100.4L1305.0 1100.5L1305.5 1100.6L1306.0 1100.7L1306.5 1100.7L1307.0 1100.3L1307.5 1100.0L1308.0 1100.2L1308.5 1100.5L1309.0 1100.2L1309.5 1100.1L1310.0 1100.4L1310.5 1100.8L1311.0 1100.6L1311.5 1100.3L1312.0 1100.6L1312.5 1100.9L1313.0 1100.4L1313.5 1100.0L1314.0 1100.0L1314.5 1100.1L1315.0 1099.9L1315.2 1099.6L1315.5 1099.5L1316.0 1099.8L1316.5 1100.4L1317.0 1100.3L1317.5 1099.8L1318.0 1099.9L1318.5 1100.1L1319.0 1099.8L1319.5 1099.9L1320.0 1100.1L1320.5 1100.1L1321.0 1099.8L1321.5 1099.6L1322.0 1099.8L1322.5 1099.9L1323.0 1099.6L1323.5 1099.6L1324.0 1099.9L1324.5 1100.0L1325.0 1100.0L1325.5 1099.5L1326.0 1099.2L1326.5 1099.8L1327.0 1100.4L1327.5 1100.3L1328.0 1100.1L1328.5 1099.9L1329.0 1099.5L1329.5 1099.2L1330.0 1099.3L1330.5 1099.6L1331.0 1099.9L1331.5 1099.8L1332.0 1099.4L1332.5 1099.2L1333.0 1099.3L1333.5 1099.6L1334.0 1099.7L1334.5 1099.6L1335.0 1099.4L1335.5 1098.9L1336.0 1099.1L1336.5 1099.7L1337.0 1099.6L1337.5 1099.3L1338.0 1099.3L1338.5 1099.1L1339.0 1099.1L1339.5 1099.1L1340.0 1099.2L1340.5 1099.0L1341.0 1098.9L1341.5 1098.8L1342.0 1098.8L1342.5 1098.9L1343.0 1098.9L1343.5 1098.9L1344.0 1098.8L1344.5 1098.5L1345.0 1098.4L1345.5 1098.6L1346.0 1098.9L1346.5 1099.0L1347.0 1098.6L1347.5 1098.4L1348.0 1098.5L1348.5 1098.7L1348.8 1098.9L1349.0 1099.3L1349.5 1099.0L1350.0 1098.1L1350.5 1098.0L1351.0 1098.4L1351.5 1098.7L1352.0 1098.6L1352.5 1098.5L1353.0 1098.4L1353.5 1098.1L1354.0 1098.0L1354.5 1098.0L1355.0 1098.0L1355.5 1098.2L1356.0 1097.8L1356.5 1097.5L1357.0 1097.5L1357.5 1097.3L1358.0 1097.4L1358.5 1097.9L1359.0 1098.6L1359.5 1098.9L1360.0 1098.0L1360.5 1097.3L1361.0 1097.6L1361.5 1097.7L1362.0 1097.4L1362.5 1097.7L1363.0 1098.1L1363.5 1097.7L1364.0 1097.1L1364.5 1096.8L1365.0 1096.6L1365.5 1096.8L1366.0 1097.2L1366.5 1097.3L1367.0 1096.7L1367.5 1096.4L1368.0 1097.0L1368.5 1097.2L1369.0 1097.0L1369.5 1097.1L1370.0 1097.3L1370.5 1097.4L1371.0 1097.3L1371.5 1096.9L1372.0 1096.6L1372.5 1096.9L1373.0 1096.9L1373.5 1096.5L1374.0 1096.5L1374.5 1096.5L1375.0 1096.5L1375.5 1096.5L1376.0 1096.3L1376.5 1096.4L1377.0 1097.1L1377.5 1097.4L1378.0 1097.3L1378.5 1097.0L1379.0 1096.9L1379.5 1096.9L1380.0 1097.1L1380.5 1097.1L1381.0 1096.7L1381.5 1096.4L1382.0 1096.6L1382.5 1096.4L1383.0 1095.7L1383.5 1095.5L1384.0 1095.6L1384.5 1095.8L1385.0 1096.4L1385.5 1096.5L1386.0 1096.4L1386.5 1096.3L1387.0 1095.9L1387.5 1095.8L1388.0 1096.0L1388.5 1096.1L1389.0 1095.8L1389.5 1095.7L1390.0 1096.2L1390.5 1096.5L1391.0 1096.0L1391.5 1095.6L1392.0 1095.5L1392.5 1095.5L1393.0 1095.5L1393.5 1095.9L1394.0 1096.3L1394.5 1096.0L1395.0 1095.7L1395.5 1095.5L1396.0 1095.4L1396.5 1095.8L1397.0 1095.7L1397.5 1095.2L1398.0 1095.1L1398.5 1095.5L1399.0 1096.1L1399.5 1095.8L1400.0 1095.1L1400.5 1095.1L1401.0 1095.3L1401.5 1095.3L1402.0 1095.4L1402.5 1095.3L1403.0 1095.0L1403.5 1095.5L1403.6 1096.0L1404.0 1095.7L1404.5 1095.4L1405.0 1095.1L1405.5 1095.0L1406.0 1095.1L1406.5 1094.7L1407.0 1094.6L1407.5 1095.0L1408.0 1095.0L1408.5 1095.0L1409.0 1095.2L1409.5 1095.2L1410.0 1095.3L1410.5 1095.2L1411.0 1095.0L1411.5 1095.1L1412.0 1094.9L1412.5 1094.8L1413.0 1094.7L1413.5 1094.6L1414.0 1094.7L1414.5 1095.1L1415.0 1094.9L1415.5 1094.2L1416.0 1093.8L1416.5 1094.3L1417.0 1094.8L1417.5 1094.7L1418.0 1094.7L1418.5 1094.6L1419.0 1094.2L1419.5 1094.1L1420.0 1094.5L1420.5 1094.9L1421.0 1094.9L1421.5 1094.5L1422.0 1094.1L1422.5 1094.0L1423.0 1093.8L1423.5 1093.9L1424.0 1094.0L1424.5 1094.0L1425.0 1094.1L1425.5 1094.4L1426.0 1094.5L1426.5 1094.4L1427.0 1094.4L1427.5 1094.6L1428.0 1094.5L1428.5 1094.0L1429.0 1093.7L1429.5 1093.7L1430.0 1093.5L1430.5 1093.1L1431.0 1093.0L1431.5 1093.3L1432.0 1093.6L1432.5 1093.5L1433.0 1093.5L1433.5 1093.5L1434.0 1093.5L1434.5 1093.8L1435.0 1093.7L1435.5 1093.2L1436.0 1093.4L1436.5 1093.5L1437.0 1093.2L1437.5 1093.6L1438.0 1094.2L1438.5 1094.0L1439.0 1093.7L1439.5 1093.9L1440.0 1093.8L1440.5 1093.3L1440.6 1093.4L1441.0 1093.7L1441.5 1093.8L1442.0 1093.9L1442.5 1093.8L1443.0 1093.7L1443.5 1093.6L1444.0 1093.5L1444.5 1093.7L1445.0 1094.0L1445.5 1093.9L1446.0 1093.9L1446.5 1094.5L1447.0 1094.9L1447.5 1094.6L1448.0 1094.4L1448.5 1094.3L1449.0 1094.4L1449.5 1094.8L1450.0 1096.1L1450.5 1094.8L1451.0 1094.8L1451.5 1095.9L1452.0 1095.7L1452.5 1094.5L1453.0 1094.8L1453.5 1095.9L1454.0 1095.7L1454.5 1094.9L1455.0 1094.2L1455.5 1094.1L1456.0 1095.7L1456.5 1096.4L1457.0 1095.1L1457.5 1094.4L1458.0 1094.3L1458.5 1094.9L1459.0 1096.0L1459.5 1096.4L1460.0 1095.7L1460.5 1094.7L1461.0 1095.5L1461.5 1097.0L1462.0 1096.7L1462.5 1096.0L1463.0 1096.0L1463.5 1096.0L1464.0 1096.0L1464.5 1095.7L1465.0 1095.2L1465.5 1095.8L1466.0 1097.4L1466.5 1097.9L1467.0 1097.6L1467.5 1097.5L1468.0 1096.6L1468.5 1096.2L1469.0 1097.1L1469.5 1097.7L1470.0 1097.4L1470.5 1096.4L1470.8 1096.1L1471.0 1097.2L1471.5 1097.6L1472.0 1097.1L1472.5 1096.9L1473.0 1096.8L1473.5 1096.3L1474.0 1096.0L1474.5 1096.5L1475.0 1097.1L1475.5 1097.3L1476.0 1097.3L1476.5 1097.0L1477.0 1096.8L1477.5 1098.0L1478.0 1099.0L1478.5 1098.3L1479.0 1098.2L1479.5 1098.4L1480.0 1098.2L1480.5 1097.3L1481.0 1096.3L1481.5 1097.1L1482.0 1098.5L1482.5 1098.4L1483.0 1098.6L1483.5 1098.5L1484.0 1097.6L1484.5 1098.1L1485.0 1097.9L1485.5 1096.5L1486.0 1096.9L1486.5 1097.7L1487.0 1097.3L1487.5 1097.3L1488.0 1098.0L1488.5 1098.1L1489.0 1098.0L1489.5 1098.0L1490.0 1098.1L1490.5 1099.0L1491.0 1099.8L1491.5 1098.8L1492.0 1097.9L1492.5 1098.2L1493.0 1099.6L1493.5 1100.0L1494.0 1098.6L1494.5 1098.3L1495.0 1099.2L1495.5 1099.0L1496.0 1097.7L1496.5 1097.2L1497.0 1098.4L1497.5 1099.2L1498.0 1099.2L1498.5 1099.0L1499.0 1099.0L1499.5 1099.2L1500.0 1098.8L1500.5 1098.7L1501.0 1099.1L1501.5 1098.0L1502.0 1097.1L1502.5 1097.8L1503.0 1098.5L1503.5 1098.5L1504.0 1098.7L1504.4 1098.8L1504.5 1098.4L1505.0 1098.6L1505.5 1099.5L1506.0 1099.7L1506.5 1099.7L1507.0 1099.7L1507.5 1100.0L1508.0 1099.7L1508.5 1098.8L1509.0 1099.4L1509.5 1100.0L1510.0 1099.8L1510.5 1099.4L1511.0 1099.2L1511.5 1099.0L1512.0 1098.7L1512.5 1099.8L1513.0 1101.3L1513.5 1101.7L1514.0 1101.1L1514.5 1100.1L1515.0 1099.6L1515.5 1098.9L1516.0 1098.4L1516.5 1099.0L1517.0 1099.9L1517.5 1100.9L1518.0 1101.4L1518.5 1100.7L1519.0 1099.8L1519.5 1100.3L1520.0 1101.4L1520.5 1101.7L1521.0 1101.4L1521.5 1101.2L1522.0 1101.3L1522.5 1100.9L1523.0 1100.7L1523.5 1100.9L1524.0 1100.4L1524.5 1100.7L1525.0 1102.1L1525.5 1102.2L1526.0 1101.4L1526.5 1101.8L1527.0 1102.2L1527.5 1100.9L1528.0 1100.7L1528.5 1102.1L1529.0 1101.5L1529.5 1100.4L1529.6 1099.6L1530.0 1099.9L1530.5 1101.2L1531.0 1101.6L1531.5 1102.2L1532.0 1102.4L1532.5 1102.5L1533.0 1103.1L1533.5 1103.8L1534.0 1103.4L1534.5 1102.1L1535.0 1102.2L1535.5 1103.5L1536.0 1103.7L1536.5 1102.7L1537.0 1102.3L1537.5 1102.0L1538.0 1100.9L1538.5 1101.9L1539.0 1103.5L1539.5 1104.0L1540.0 1104.9L1540.5 1104.9L1541.0 1105.3L1541.5 1106.5L1542.0 1105.8L1542.5 1104.3L1543.0 1103.8L1543.5 1103.3L1544.0 1103.2L1544.5 1104.4L1545.0 1104.8L1545.5 1104.9L1546.0 1105.3L1546.5 1104.5L1547.0 1103.5L1547.5 1104.0L1548.0 1105.1L1548.5 1106.3L1549.0 1106.8L1549.5 1106.2L1550.0 1106.3L1550.5 1106.8L1551.0 1106.7L1551.5 1105.9L1552.0 1105.1L1552.5 1106.1L1553.0 1107.4L1553.5 1106.9L1554.0 1105.7L1554.5 1105.4L1554.8 1106.5L1555.0 1107.2L1555.5 1106.1L1556.0 1105.4L1556.5 1105.7L1557.0 1105.7L1557.5 1106.4L1558.0 1107.8L1558.5 1107.1L1559.0 1105.6L1559.5 1106.1L1560.0 1106.8L1560.5 1106.7L1561.0 1106.4L1561.5 1106.1L1562.0 1106.4L1562.5 1106.8L1563.0 1106.8L1563.5 1106.4L1564.0 1106.1L1564.5 1106.7L1565.0 1107.2L1565.5 1106.6L1566.0 1105.6L1566.5 1105.6L1567.0 1106.1L1567.5 1106.2L1568.0 1106.2L1568.5 1107.0L1569.0 1108.1L1569.5 1108.6L1570.0 1108.2L1570.5 1106.3L1571.0 1104.4L1571.5 1105.3L1572.0 1106.5L1572.5 1106.6L1573.0 1106.9L1573.5 1106.7L1574.0 1106.4L1574.5 1106.5L1575.0 1106.2L1575.5 1105.7L1576.0 1105.7L1576.5 1105.7L1577.0 1105.2L1577.5 1105.6L1578.0 1106.5L1578.5 1106.6L1579.0 1106.8L1579.5 1107.1L1580.0 1107.1L1580.5 1106.9L1581.0 1106.3L1581.5 1106.9L1582.0 1108.6L1582.5 1108.8L1583.0 1107.1L1583.5 1105.5L1584.0 1105.4L1584.5 1106.2L1585.0 1106.6L1585.5 1106.7L1586.0 1107.2L1586.5 1107.5L1587.0 1107.9L1587.5 1107.8L1588.0 1106.6L1588.4 1106.0L1588.5 1106.5L1589.0 1107.3L1589.5 1107.2L1590.0 1106.4L1590.5 1106.3L1591.0 1107.0L1591.5 1107.4L1592.0 1107.2L1592.5 1106.6L1593.0 1106.7L1593.5 1107.8L1594.0 1108.0L1594.5 1107.4L1595.0 1107.6L1595.5 1108.0L1596.0 1107.4L1596.5 1106.8L1597.0 1106.7L1597.5 1107.1L1598.0 1107.9L1598.5 1107.6L1599.0 1107.1L1599.5 1107.5L1600.0 1107.9L1600.5 1107.9L1601.0 1108.0L1601.5 1107.7L1602.0 1107.0L1602.5 1107.5L1603.0 1109.0L1603.5 1108.8L1604.0 1107.8L1604.5 1108.3L1605.0 1109.2L1605.5 1109.2L1606.0 1108.6L1606.5 1109.1L1607.0 1109.2L1607.5 1108.1L1608.0 1108.4L1608.5 1109.4L1609.0 1109.6L1609.5 1109.7L1610.0 1109.1L1610.5 1108.3L1611.0 1108.9L1611.5 1109.3L1612.0 1109.3L1612.5 1109.3L1613.0 1108.7L1613.5 1108.7L1613.6 1108.7L1614.0 1108.1L1614.5 1107.3L1615.0 1107.0L1615.5 1107.7L1616.0 1108.5L1616.5 1108.7L1617.0 1108.9L1617.5 1108.9L1618.0 1108.9L1618.5 1109.5L1619.0 1109.3L1619.5 1108.5L1620.0 1108.3L1620.5 1108.9L1621.0 1109.7L1621.5 1109.1L1622.0 1108.8L1622.5 1109.7L1623.0 1109.9L1623.5 1110.3L1624.0 1110.2L1624.5 1109.9L1625.0 1110.0L1625.5 1109.1L1626.0 1108.8L1626.5 1108.6L1627.0 1107.4L1627.5 1107.6L1628.0 1108.8L1628.5 1109.1L1629.0 1108.9L1629.5 1108.8L1630.0 1108.7L1630.5 1109.3L1631.0 1109.4L1631.5 1108.6L1632.0 1108.3L1632.5 1108.4L1633.0 1108.2L1633.5 1108.6L1634.0 1109.5L1634.5 1109.6L1635.0 1108.6L1635.5 1107.7L1636.0 1108.5L1636.5 1109.4L1637.0 1108.9L1637.5 1108.3L1638.0 1108.6L1638.5 1109.1L1638.8 1108.1L1639.0 1106.9L1639.5 1107.4L1640.0 1107.9L1640.5 1107.6L1641.0 1108.2L1641.5 1109.7L1642.0 1110.8L1642.5 1110.5L1643.0 1108.8L1643.5 1107.6L1644.0 1107.7L1644.5 1107.4L1645.0 1107.8L1645.5 1108.7L1646.0 1108.7L1646.5 1108.9L1647.0 1109.3L1647.5 1109.3L1648.0 1108.8L1648.5 1109.0L1649.0 1109.8L1649.5 1109.7L1650.0 1109.1L1650.5 1109.0L1651.0 1109.0L1651.5 1109.0L1652.0 1109.0L1652.5 1108.2L1653.0 1106.9L1653.5 1106.7L1654.0 1108.3L1654.5 1110.3L1655.0 1110.2L1655.5 1108.6L1656.0 1107.8L1656.5 1108.0L1657.0 1108.8L1657.2 1109.4"/>
<path class="c" stroke="#000000" stroke-width="4.3" d="M338.5 1098.6L339.0 1097.6L339.5 1096.7L340.0 1095.8L340.5 1095.1L341.0 1094.5L341.5 1094.1L342.0 1093.7L342.5 1093.4L343.0 1093.1L343.5 1092.9L344.0 1092.6L344.5 1092.3L345.0 1092.0L345.2 1091.9L345.5 1091.7L346.0 1091.3L346.5 1090.9L347.0 1090.5L347.5 1090.1L348.0 1089.6L348.5 1089.2L349.0 1088.8L349.5 1088.4L350.0 1088.0L350.5 1087.6L351.0 1087.1L351.5 1086.7L352.0 1086.2L352.5 1085.7L353.0 1085.2L353.5 1084.8L354.0 1084.4L354.5 1084.1L355.0 1083.8L355.5 1083.6L356.0 1083.5L356.2 1083.5L356.5 1083.5L357.0 1083.5L357.5 1083.6L358.0 1083.6L358.5 1083.7L359.0 1083.8L359.5 1083.8L360.0 1083.9L360.5 1084.0L361.0 1084.0L361.5 1084.0L362.0 1084.1L362.5 1084.1L363.0 1084.2L363.5 1084.2L364.0 1084.3L364.5 1084.3L365.0 1084.3L365.4 1084.3L365.5 1084.3L366.0 1084.2L366.5 1084.1L367.0 1083.9L367.5 1083.6L368.0 1083.3L368.5 1083.0L369.0 1082.6L369.5 1082.3L370.0 1082.0L370.5 1081.7L371.0 1081.4L371.5 1081.2L372.0 1080.9L372.5 1080.6L373.0 1080.3L373.5 1080.0L374.0 1079.6L374.5 1079.3L375.0 1078.8L375.5 1078.4L376.0 1078.0L376.5 1077.5L377.0 1077.0L377.5 1076.4L378.0 1075.6L378.5 1074.5L378.9 1073.4L379.0 1072.9L379.5 1067.1L380.0 1059.2L380.2 1056.6L380.5 1052.8L381.0 1046.4L381.5 1042.6L381.6 1042.5L382.0 1042.6L382.5 1043.0L383.0 1043.5L383.5 1044.0L384.0 1044.8L384.5 1045.8L385.0 1046.8L385.5 1047.3L385.6 1047.3L386.0 1046.7L386.5 1044.8L387.0 1042.3L387.5 1040.0L388.0 1038.0L388.5 1035.8L389.0 1033.7L389.5 1032.0L389.8 1031.3L390.0 1030.9L390.5 1030.0L391.0 1029.2L391.5 1028.5L392.0 1027.9L392.5 1027.4L393.0 1027.0L393.5 1026.6L394.0 1026.2L394.5 1025.8L395.0 1025.5L395.5 1025.2L396.0 1024.9L396.5 1024.7L397.0 1024.6L397.4 1024.6L397.5 1024.6L398.0 1024.8L398.5 1025.1L399.0 1025.7L399.5 1026.4L400.0 1027.4L400.5 1028.5L400.7 1029.0L401.0 1030.9L401.5 1037.4L402.0 1044.5L402.4 1048.1L402.5 1048.6L403.0 1050.7L403.5 1052.5L404.0 1053.8L404.5 1054.7L404.9 1054.9L405.0 1054.9L405.5 1054.6L406.0 1054.1L406.5 1053.5L407.0 1052.7L407.5 1052.0L408.0 1051.3L408.5 1050.6L409.0 1049.8L409.5 1048.9L410.0 1048.0L410.5 1047.1L410.8 1046.5L411.0 1046.1L411.5 1045.0L412.0 1043.9L412.5 1042.7L413.0 1041.4L413.5 1040.1L414.0 1038.8L414.5 1037.4L415.0 1036.0L415.5 1034.6L416.0 1033.3L416.5 1031.9L417.0 1030.4L417.5 1028.9L418.0 1027.3L418.5 1025.6L419.0 1023.7L419.2 1022.9L419.5 1021.7L420.0 1019.6L420.5 1017.4L421.0 1015.0L421.5 1012.2L422.0 1009.2L422.5 1005.6L423.0 1001.5L423.4 997.7L423.5 996.6L424.0 989.1L424.5 978.7L425.0 966.6L425.1 964.1L425.5 952.8L426.0 935.8L426.5 916.8L426.8 905.0L427.0 897.4L427.5 876.9L427.8 860.0L428.0 842.2L428.5 773.4L428.9 720.0L429.0 709.7L429.5 667.2L430.0 623.1L430.2 600.0L430.5 547.6L431.0 450.0L431.5 386.2L431.6 380.0L432.0 366.7L432.5 356.8L432.6 355.0L433.0 347.2L433.2 345.6L433.5 345.6L434.0 345.6L434.5 345.6L435.0 345.6L435.4 345.6L435.5 346.0L436.0 355.0L436.5 366.5L436.9 380.0L437.0 384.8L437.5 423.5L437.8 450.0L438.0 467.6L438.5 516.4L439.0 561.7L439.2 576.0L439.5 593.5L440.0 617.7L440.5 640.0L441.0 660.9L441.5 680.2L442.0 700.7L442.4 720.0L442.5 725.6L443.0 759.9L443.5 800.3L444.0 840.6L444.5 874.5L444.6 880.0L445.0 899.9L445.5 920.9L445.8 930.4L446.0 935.6L446.5 947.5L447.0 957.9L447.5 966.8L448.0 974.1L448.5 979.9L448.6 980.9L449.0 984.6L449.5 988.7L450.0 992.3L450.5 995.1L451.0 997.2L451.2 997.7L451.5 998.4L452.0 999.4L452.5 1000.4L453.0 1001.1L453.5 1001.6L454.0 1001.9L454.2 1001.9L454.5 1001.7L455.0 1000.5L455.5 998.4L456.0 995.7L456.5 992.6L457.0 989.3L457.5 985.3L458.0 979.9L458.5 973.5L459.0 966.6L459.5 959.4L460.0 952.5L460.4 947.3L460.5 946.1L461.0 940.0L461.5 933.8L461.8 930.0L462.0 926.7L462.3 923.2L462.5 923.2L463.0 923.2L463.5 923.2L464.0 930.0L464.5 935.8L465.0 941.4L465.4 947.3L465.5 949.2L466.0 963.1L466.5 980.3L467.0 995.4L467.1 997.7L467.5 1006.1L468.0 1015.9L468.5 1024.6L469.0 1032.1L469.5 1037.9L469.7 1039.7L470.0 1042.1L470.5 1045.8L471.0 1049.3L471.5 1052.4L472.0 1055.2L472.5 1057.7L473.0 1059.9L473.5 1061.8L474.0 1063.4L474.5 1064.6L474.7 1065.0L475.0 1065.6L475.5 1066.5L476.0 1067.3L476.5 1068.1L477.0 1068.9L477.5 1069.6L478.0 1070.2L478.5 1070.7L479.0 1071.1L479.5 1071.4L480.0 1071.6L480.5 1071.7L480.6 1071.7L481.0 1071.7L481.5 1071.5L482.0 1071.2L482.5 1070.8L483.0 1070.3L483.5 1069.7L484.0 1069.0L484.5 1068.3L485.0 1067.5L485.5 1066.7L486.0 1065.9L486.5 1065.0L487.0 1064.0L487.5 1062.8L488.0 1061.4L488.5 1059.9L489.0 1058.1L489.5 1056.2L490.0 1054.2L490.5 1052.1L491.0 1049.9L491.5 1047.7L492.0 1045.4L492.5 1043.0L493.0 1040.6L493.2 1039.7L493.5 1038.3L494.0 1035.8L494.5 1033.2L495.0 1030.4L495.5 1027.6L496.0 1024.6L496.5 1021.6L497.0 1018.4L497.5 1015.1L498.0 1011.7L498.5 1008.1L499.0 1004.5L499.5 1000.8L499.9 997.7L500.0 996.9L500.5 992.9L501.0 988.6L501.5 984.2L502.0 979.5L502.5 974.6L503.0 969.5L503.5 964.3L504.0 958.8L504.5 953.1L505.0 947.3L505.5 941.6L506.0 936.0L506.5 930.2L507.0 923.6L507.5 915.9L508.0 906.5L508.3 900.0L508.5 894.6L509.0 874.6L509.5 847.4L510.0 815.4L510.5 780.8L511.0 746.2L511.4 720.0L511.5 713.7L512.0 682.1L512.5 647.5L512.6 640.0L513.0 605.7L513.5 560.0L514.0 519.1L514.5 478.0L514.8 450.0L515.0 426.2L515.4 380.0L515.5 373.1L516.0 346.9L516.3 335.0L516.5 326.8L517.0 313.3L517.5 313.3L518.0 313.3L518.5 313.3L519.0 313.3L519.5 324.4L519.7 330.0L520.0 336.6L520.5 347.1L521.0 356.6L521.2 360.0L521.5 364.7L522.0 371.8L522.5 378.4L523.0 384.7L523.4 390.0L523.5 391.4L524.0 398.4L524.5 405.7L525.0 412.7L525.5 419.3L526.0 425.0L526.5 430.1L527.0 435.0L527.5 439.4L528.0 443.2L528.5 446.0L529.0 448.3L529.5 450.5L530.0 452.0L530.5 452.6L531.0 452.0L531.5 450.5L532.0 448.3L532.5 446.0L533.0 443.0L533.5 438.9L534.0 434.3L534.5 429.5L535.0 425.0L535.5 420.8L536.0 416.6L536.5 412.4L537.0 408.2L537.5 404.0L538.0 400.0L538.5 396.3L539.0 393.0L539.5 389.6L540.0 385.8L540.5 381.1L540.6 380.0L541.0 374.6L541.5 365.8L542.0 355.9L542.3 350.0L542.5 345.5L543.0 332.5L543.4 327.5L543.5 327.5L544.0 327.5L544.5 327.5L545.0 327.5L545.4 327.5L545.5 327.8L546.0 335.0L546.5 346.3L546.7 350.0L547.0 354.4L547.5 360.6L548.0 367.0L548.5 375.5L548.7 380.0L549.0 390.6L549.5 418.9L550.0 452.0L550.3 470.0L550.5 481.1L551.0 509.5L551.5 537.3L552.0 562.7L552.3 576.0L552.5 583.8L553.0 600.9L553.5 616.3L554.0 632.7L554.2 640.0L554.5 652.5L555.0 676.0L555.5 699.7L556.0 720.0L556.5 736.9L557.0 753.0L557.5 768.0L558.0 781.9L558.5 794.5L559.0 805.6L559.5 815.0L560.0 823.2L560.5 830.6L561.0 837.5L561.5 843.8L562.0 849.6L562.5 855.0L563.0 860.2L563.5 865.2L564.0 870.0L564.5 874.7L565.0 879.3L565.5 883.7L566.0 887.8L566.5 891.8L567.0 895.5L567.5 898.9L568.0 902.0L568.5 904.9L569.0 907.7L569.5 910.4L570.0 912.9L570.5 915.4L571.0 917.8L571.5 920.1L572.0 922.3L572.5 924.4L573.0 926.5L573.5 928.5L574.0 930.5L574.5 932.4L575.0 934.3L575.5 936.2L576.0 938.0L576.5 939.8L577.0 941.6L577.5 943.3L578.0 945.0L578.5 946.6L579.0 948.2L579.5 949.8L580.0 951.3L580.5 952.9L581.0 954.4L581.5 955.8L582.0 957.3L582.5 958.7L583.0 960.2L583.5 961.6L584.0 963.0L584.5 964.4L585.0 965.8L585.5 967.3L586.0 968.7L586.5 970.1L586.9 971.3L587.0 971.6L587.5 973.0L588.0 974.5L588.5 976.0L589.0 977.4L589.5 978.8L590.0 980.3L590.5 981.7L591.0 983.1L591.5 984.5L592.0 985.9L592.5 987.3L593.0 988.7L593.5 990.0L594.0 991.4L594.5 992.7L595.0 994.0L595.5 995.3L596.0 996.6L596.5 997.9L597.0 999.2L597.5 1000.4L598.0 1001.6L598.5 1002.8L599.0 1003.9L599.5 1005.0L600.0 1006.2L600.5 1007.4L601.0 1008.5L601.5 1009.4L602.0 1009.7L602.5 1009.3L603.0 1008.0L603.5 1006.2L604.0 1004.0L604.5 1000.4L605.0 994.3L605.5 986.0L606.0 975.7L606.2 971.0L606.5 962.3L607.0 940.3L607.5 907.9L607.6 900.0L608.0 848.4L608.5 746.2L608.6 723.0L609.0 600.0L609.5 550.0L609.9 532.9L610.0 532.9L610.5 532.9L611.0 532.9L611.5 532.9L611.9 550.0L612.0 556.5L612.4 600.0L612.5 623.0L612.8 723.0L613.0 775.7L613.5 886.3L613.6 900.0L614.0 941.1L614.5 976.1L614.7 985.0L615.0 995.1L615.5 1008.0L616.0 1017.3L616.2 1020.3L616.5 1024.5L617.0 1030.9L617.5 1036.3L618.0 1040.7L618.5 1044.0L618.6 1044.5L619.0 1046.4L619.5 1048.5L620.0 1050.4L620.5 1052.0L621.0 1053.4L621.5 1054.5L622.0 1055.4L622.3 1055.8L622.5 1056.0L623.0 1056.6L623.5 1057.2L624.0 1057.7L624.5 1058.1L625.0 1058.5L625.5 1058.8L626.0 1058.9L626.5 1059.0L627.0 1059.0L627.5 1058.9L628.0 1058.8L628.5 1058.7L629.0 1058.5L629.5 1058.3L630.0 1058.1L630.5 1057.8L631.0 1057.6L631.5 1057.3L632.0 1057.1L632.3 1056.9L632.5 1056.8L633.0 1056.5L633.5 1056.1L634.0 1055.7L634.5 1055.2L635.0 1054.7L635.5 1054.1L636.0 1053.5L636.5 1052.9L636.8 1052.5L637.0 1052.2L637.5 1051.5L638.0 1050.6L638.5 1049.6L639.0 1048.6L639.5 1047.5L640.0 1046.3L640.5 1045.2L641.0 1044.0L641.2 1043.5L641.5 1042.8L642.0 1041.5L642.5 1040.2L643.0 1038.8L643.5 1037.4L644.0 1035.9L644.5 1034.4L645.0 1032.9L645.5 1031.4L645.9 1030.1L646.0 1029.8L646.5 1028.2L647.0 1026.5L647.5 1024.9L648.0 1023.1L648.5 1021.4L649.0 1019.5L649.5 1017.7L649.9 1016.1L650.0 1015.7L650.5 1013.8L651.0 1011.8L651.5 1009.7L652.0 1007.5L652.5 1005.1L653.0 1002.4L653.5 999.3L654.0 995.8L654.5 991.9L655.0 987.7L655.5 983.5L656.0 979.1L656.5 974.9L657.0 970.7L657.5 966.6L658.0 962.3L658.5 957.9L659.0 953.3L659.5 948.5L659.6 947.5L660.0 943.3L660.5 937.5L661.0 931.5L661.5 925.6L662.0 920.0L662.5 914.9L663.0 910.0L663.5 905.1L664.0 900.0L664.5 894.5L665.0 888.8L665.5 882.9L666.0 877.3L666.5 872.0L666.7 870.0L667.0 867.2L667.5 862.8L668.0 858.6L668.5 854.6L668.7 853.0L669.0 850.2L669.5 845.6L669.9 843.9L670.0 843.9L670.5 843.9L671.0 843.9L671.3 843.9L671.5 844.1L672.0 845.9L672.5 848.5L673.0 851.0L673.5 852.9L674.0 854.7L674.5 856.4L675.0 858.2L675.5 860.0L676.0 862.0L676.5 864.0L677.0 866.1L677.5 868.2L678.0 870.4L678.5 872.6L679.0 875.0L679.5 877.3L680.0 879.8L680.5 882.4L681.0 885.1L681.4 887.3L681.5 887.9L682.0 891.0L682.5 894.3L683.0 897.9L683.5 901.6L684.0 905.4L684.5 909.2L685.0 913.0L685.5 916.6L686.0 920.0L686.5 923.2L687.0 926.3L687.5 929.4L688.0 932.4L688.5 935.3L689.0 938.3L689.5 941.3L690.0 944.4L690.5 947.5L691.0 950.8L691.5 954.1L692.0 957.5L692.5 961.0L693.0 964.4L693.5 967.8L694.0 971.1L694.5 974.3L694.6 974.9L695.0 977.4L695.5 980.4L696.0 983.4L696.5 986.3L697.0 989.2L697.5 992.1L698.0 994.9L698.5 997.6L699.0 1000.3L699.4 1002.4L699.5 1002.9L700.0 1005.5L700.5 1008.0L701.0 1010.5L701.5 1012.9L702.0 1015.2L702.2 1016.1L702.5 1017.4L703.0 1019.5L703.5 1021.5L704.0 1023.5L704.5 1025.5L705.0 1027.5L705.5 1029.5L706.0 1031.5L706.5 1033.5L707.0 1035.5L707.5 1037.5L708.0 1039.5L708.5 1041.5L709.0 1043.5L709.5 1045.5L710.0 1047.6L710.5 1049.7L711.0 1051.7L711.5 1053.8L712.0 1055.8L712.5 1057.8L713.0 1059.6L713.5 1061.4L714.0 1063.1L714.5 1064.7L715.0 1066.3L715.5 1067.9L716.0 1069.4L716.5 1070.9L717.0 1072.2L717.5 1073.6L718.0 1074.8L718.5 1076.0L719.0 1077.2L719.5 1078.3L720.0 1079.4L720.5 1080.4L721.0 1081.4L721.5 1082.3L722.0 1083.1L722.4 1083.7L722.5 1083.8L723.0 1084.5L723.5 1085.2L724.0 1085.8L724.5 1086.3L725.0 1086.7L725.5 1087.0L726.0 1087.2L726.5 1087.4L727.0 1087.5L727.5 1087.6L728.0 1087.8L728.5 1087.9L729.0 1087.9L729.5 1088.0L730.0 1088.1L730.4 1088.1L730.5 1088.1L731.0 1088.1L731.5 1088.2L732.0 1088.2L732.5 1088.2L733.0 1088.3L733.5 1088.3L734.0 1088.3L734.5 1088.3L735.0 1088.3L735.5 1088.3L736.0 1088.4L736.5 1088.4L737.0 1088.4L737.5 1088.4L738.0 1088.4L738.5 1088.5L739.0 1088.5L739.5 1088.5L740.0 1088.5L740.5 1088.5L741.0 1088.5L741.5 1088.5L742.0 1088.6L742.5 1088.6L743.0 1088.6L743.5 1088.6L744.0 1088.6L744.5 1088.7L745.0 1088.7L745.5 1088.7L746.0 1088.7L746.5 1088.8L747.0 1088.8L747.2 1088.8L747.5 1088.8L748.0 1088.9L748.5 1088.9L749.0 1089.0L749.5 1089.1L750.0 1089.2L750.5 1089.3L751.0 1089.4L751.5 1089.5L752.0 1089.7L752.5 1089.8L753.0 1089.9L753.5 1090.1L754.0 1090.3L754.5 1090.4L755.0 1090.6L755.5 1090.8L756.0 1091.0L756.5 1091.1L757.0 1091.3L757.5 1091.5L758.0 1091.7L758.5 1091.9L759.0 1092.1L759.3 1092.2L759.5 1092.3L760.0 1092.5L760.5 1092.7L761.0 1093.0L761.5 1093.3L762.0 1093.5L762.5 1093.8L763.0 1094.1L763.5 1094.5L764.0 1094.8L764.5 1095.1L765.0 1095.4L765.5 1095.7L766.0 1096.1L766.5 1096.4L767.0 1096.7L767.5 1097.0L768.0 1097.2L768.5 1097.5L768.7 1097.6L769.0 1097.7L769.5 1098.0L770.0 1098.2L770.5 1098.5L771.0 1098.7L771.5 1098.9L772.0 1099.2L772.5 1099.4L773.0 1099.6L773.5 1099.8L774.0 1100.1L774.5 1100.3L775.0 1100.5L775.5 1100.7L776.0 1100.9L776.5 1101.0L777.0 1101.2L777.5 1101.4L778.0 1101.6L778.1 1101.6L778.5 1101.7L779.0 1101.9L779.5 1102.0L780.0 1102.5L780.5 1102.5L781.0 1102.4L781.5 1102.4L782.0 1102.6L782.5 1102.9L783.0 1103.0L783.5 1103.1L784.0 1103.3L784.5 1103.3L785.0 1103.5L785.5 1103.8L786.0 1104.2L786.5 1104.3L787.0 1104.2L787.5 1104.1L788.0 1104.1L788.5 1104.2L789.0 1104.5L789.5 1104.5L790.0 1104.5L790.5 1104.8L791.0 1105.1L791.5 1105.1L791.6 1104.8L792.0 1104.9L792.5 1105.2L793.0 1105.2L793.5 1105.2L794.0 1105.3L794.5 1105.7L795.0 1105.8L795.5 1105.5L796.0 1105.4L796.5 1105.4L797.0 1105.4L797.5 1105.5L798.0 1105.8L798.5 1106.1L799.0 1106.0L799.5 1106.0L800.0 1106.2L800.5 1106.1L801.0 1106.0L801.5 1106.1L802.0 1106.2L802.5 1106.3L803.0 1106.2L803.5 1106.1L804.0 1106.4L804.5 1106.7L805.0 1106.8L805.5 1106.8L806.0 1106.8L806.5 1106.7L807.0 1106.4L807.5 1106.3L808.0 1106.1L808.5 1105.9L809.0 1106.0L809.5 1106.3L810.0 1106.3L810.4 1106.2L810.5 1106.2L811.0 1105.4L811.5 1104.3L812.0 1103.0L812.5 1101.8L813.0 1101.1L813.1 1101.1L813.5 1100.6L814.0 1100.1L814.5 1099.9L815.0 1099.9L815.1 1099.8L815.5 1099.9L816.0 1100.2L816.5 1100.5L817.0 1101.1L817.5 1101.9L817.6 1101.9L818.0 1102.8L818.5 1104.3L819.0 1105.8L819.5 1107.1L819.8 1107.7L820.0 1107.7L820.5 1107.7L821.0 1107.8L821.5 1108.2L822.0 1108.7L822.5 1108.9L823.0 1109.0L823.5 1109.2L823.8 1109.2L824.0 1109.3L824.5 1109.4L825.0 1109.3L825.5 1109.5L826.0 1109.8L826.5 1109.6L827.0 1109.3L827.5 1109.4L828.0 1109.7L828.5 1109.8L829.0 1109.6L829.5 1109.4L830.0 1109.5L830.5 1109.6L831.0 1109.6L831.5 1109.5L832.0 1109.5L832.5 1109.6L833.0 1109.6L833.5 1109.6L833.6 1109.7L834.0 1109.8L834.5 1109.7L835.0 1109.6L835.5 1109.7L836.0 1109.6L836.5 1109.5L837.0 1109.3L837.5 1109.2L838.0 1109.4L838.5 1109.5L839.0 1109.5L839.5 1109.4L840.0 1109.3L840.5 1109.2L841.0 1109.4L841.5 1109.7L842.0 1109.5L842.5 1109.3L843.0 1109.3L843.5 1109.2L844.0 1109.1L844.5 1109.2L845.0 1109.0L845.5 1108.7L846.0 1108.8L846.5 1109.0L847.0 1109.1L847.5 1109.1L848.0 1108.9L848.5 1108.9L849.0 1108.9L849.5 1108.8L850.0 1108.9L850.4 1108.8L850.5 1108.7L851.0 1108.7L851.5 1108.5L852.0 1108.5L852.5 1108.5L853.0 1108.5L853.5 1108.3L854.0 1108.3L854.5 1108.3L855.0 1108.3L855.5 1108.1L856.0 1108.0L856.5 1107.9L857.0 1108.0L857.5 1108.2L858.0 1107.9L858.5 1107.7L859.0 1107.7L859.5 1107.6L860.0 1107.6L860.5 1107.6L861.0 1107.3L861.5 1107.2L862.0 1107.1L862.5 1107.0L863.0 1106.8L863.5 1106.7L863.8 1107.0L864.0 1107.2L864.5 1107.2L865.0 1107.1L865.5 1106.9L866.0 1106.6L866.5 1106.3L867.0 1106.0L867.5 1105.9L868.0 1106.0L868.5 1106.1L869.0 1106.0L869.5 1105.8L870.0 1105.5L870.5 1105.4L871.0 1105.5L871.5 1105.7L872.0 1105.6L872.2 1105.7L872.5 1105.9L873.0 1106.0L873.5 1105.8L874.0 1105.8L874.5 1106.0L875.0 1106.2L875.5 1106.5L876.0 1106.8L876.5 1107.1L877.0 1107.4L877.5 1107.6L878.0 1107.7L878.5 1107.9L879.0 1108.0L879.5 1108.3L880.0 1108.7L880.5 1108.9L880.6 1108.9L881.0 1108.9L881.5 1109.1L882.0 1109.3L882.5 1109.5L883.0 1109.6L883.5 1109.7L884.0 1109.8L884.5 1110.0L885.0 1110.3L885.5 1110.6L886.0 1110.8L886.5 1110.8L887.0 1110.7L887.5 1111.0L888.0 1111.4L888.5 1111.5L889.0 1111.8L889.5 1111.9L890.0 1111.9L890.5 1112.3L891.0 1112.6L891.5 1112.5L892.0 1112.4L892.5 1112.4L893.0 1112.4L893.5 1112.3L894.0 1112.6L894.5 1113.0L894.9 1113.0L895.0 1112.8L895.5 1112.9L896.0 1113.0L896.5 1112.9L897.0 1112.9L897.5 1112.7L898.0 1112.5L898.5 1112.3L899.0 1111.9L899.5 1111.8L900.0 1111.9L900.5 1111.7L901.0 1111.6L901.5 1111.5L902.0 1111.6L902.5 1111.8L903.0 1111.6L903.5 1111.4L904.0 1111.4L904.2 1111.3L904.5 1111.3L905.0 1111.3L905.5 1111.2L906.0 1111.0L906.5 1111.0L907.0 1110.9L907.5 1110.8L908.0 1110.8L908.5 1110.8L909.0 1110.9L909.5 1110.9L910.0 1110.7L910.5 1110.7L911.0 1110.5L911.5 1110.3L912.0 1110.3L912.5 1110.4L913.0 1110.4L913.5 1110.5L914.0 1110.4L914.2 1110.5L914.5 1110.8L915.0 1110.9L915.5 1110.6L916.0 1110.5L916.5 1110.7L917.0 1111.0L917.5 1111.0L918.0 1110.7L918.5 1110.6L919.0 1110.7L919.5 1110.7L920.0 1110.9L920.5 1111.2L921.0 1111.4L921.5 1111.8L922.0 1111.9L922.5 1111.7L923.0 1111.7L923.5 1112.0L924.0 1112.3L924.5 1112.2L925.0 1112.1L925.5 1112.4L926.0 1112.6L926.5 1112.8L927.0 1113.0L927.5 1113.1L927.7 1112.9L928.0 1112.8L928.5 1112.9L929.0 1112.9L929.5 1112.8L930.0 1112.9L930.5 1113.0L931.0 1113.1L931.5 1113.3L932.0 1113.6L932.5 1113.7L933.0 1113.7L933.5 1113.7L934.0 1113.3L934.5 1113.2L935.0 1113.6L935.5 1113.9L936.0 1114.0L936.5 1114.1L937.0 1114.0L937.5 1113.8L938.0 1114.1L938.5 1114.3L939.0 1114.0L939.5 1113.8L940.0 1114.0L940.5 1114.2L941.0 1114.2L941.5 1114.2L942.0 1114.2L942.5 1114.2L943.0 1114.5L943.5 1114.9L944.0 1114.7L944.5 1114.5L945.0 1114.4L945.5 1114.3L946.0 1114.6L946.5 1114.8L947.0 1114.8L947.5 1114.9L948.0 1115.1L948.5 1115.2L949.0 1115.2L949.5 1115.0L950.0 1114.8L950.5 1114.8L951.0 1115.1L951.2 1115.2L951.5 1115.3L952.0 1115.3L952.5 1115.0L953.0 1114.8L953.5 1114.7L954.0 1114.5L954.5 1114.3L955.0 1114.1L955.5 1113.9L956.0 1113.7L956.5 1113.5L957.0 1113.4L957.5 1113.1L957.9 1112.8L958.0 1112.8L958.5 1112.8L959.0 1112.7L959.5 1112.6L960.0 1112.3L960.5 1112.0L961.0 1112.0L961.5 1112.0L962.0 1111.8L962.5 1111.7L963.0 1111.6L963.5 1111.5L964.0 1111.6L964.5 1111.6L965.0 1111.4L965.5 1111.3L966.0 1111.3L966.5 1111.1L967.0 1110.9L967.5 1111.0L968.0 1111.3L968.5 1111.5L969.0 1111.5L969.5 1111.3L970.0 1111.0L970.5 1110.9L971.0 1111.0L971.5 1111.1L972.0 1111.1L972.5 1110.9L973.0 1110.9L973.5 1111.1L974.0 1111.1L974.5 1110.9L975.0 1110.6L975.5 1110.5L976.0 1110.5L976.5 1110.6L977.0 1110.8L977.5 1110.8L978.0 1110.8L978.5 1110.7L979.0 1110.6L979.5 1110.5L980.0 1110.5L980.5 1110.5L981.0 1110.6L981.5 1110.4L982.0 1110.1L982.5 1110.2L983.0 1110.2L983.5 1110.1L984.0 1110.2L984.5 1110.6L984.8 1110.7L985.0 1110.5L985.5 1110.6L986.0 1110.6L986.5 1110.3L987.0 1110.3L987.5 1110.4L988.0 1110.3L988.5 1110.2L989.0 1110.3L989.5 1110.6L990.0 1110.8L990.5 1110.7L991.0 1110.6L991.5 1110.7L992.0 1110.5L992.5 1110.3L993.0 1110.4L993.5 1110.4L994.0 1110.4L994.5 1110.5L995.0 1110.6L995.5 1110.5L996.0 1110.4L996.5 1110.5L997.0 1110.5L997.5 1110.5L998.0 1110.5L998.2 1110.4L998.5 1110.2L999.0 1110.2L999.5 1110.1L1000.0 1110.4L1000.5 1110.7L1001.0 1110.6L1001.5 1110.5L1002.0 1110.5L1002.5 1110.7L1003.0 1111.1L1003.5 1111.1L1004.0 1111.0L1004.5 1111.0L1005.0 1111.0L1005.5 1111.0L1006.0 1111.1L1006.5 1111.3L1007.0 1111.6L1007.5 1111.8L1008.0 1111.9L1008.5 1111.8L1009.0 1111.7L1009.5 1111.8L1010.0 1112.0L1010.5 1112.3L1011.0 1112.5L1011.5 1112.5L1012.0 1112.3L1012.5 1112.3L1013.0 1112.8L1013.5 1112.9L1014.0 1112.8L1014.5 1113.0L1015.0 1113.2L1015.5 1113.2L1016.0 1113.4L1016.5 1113.3L1017.0 1113.3L1017.5 1113.6L1018.0 1113.6L1018.4 1113.5L1018.5 1113.4L1019.0 1113.4L1019.5 1113.6L1020.0 1113.6L1020.5 1113.5L1021.0 1113.6L1021.5 1113.7L1022.0 1113.7L1022.5 1113.7L1023.0 1113.7L1023.5 1113.7L1024.0 1113.6L1024.5 1113.6L1025.0 1113.5L1025.5 1113.6L1026.0 1113.8L1026.5 1113.9L1027.0 1114.0L1027.5 1113.9L1028.0 1113.5L1028.5 1113.4L1029.0 1113.6L1029.5 1113.8L1030.0 1113.8L1030.1 1113.8L1030.5 1113.8L1031.0 1113.5L1031.5 1113.5L1032.0 1113.9L1032.5 1114.1L1033.0 1113.9L1033.5 1113.7L1034.0 1113.8L1034.5 1114.0L1035.0 1113.9L1035.5 1113.7L1036.0 1113.6L1036.5 1113.7L1037.0 1113.9L1037.5 1114.1L1038.0 1114.0L1038.5 1113.6L1039.0 1113.5L1039.5 1113.5L1040.0 1113.5L1040.5 1113.6L1041.0 1113.6L1041.5 1113.6L1042.0 1113.7L1042.5 1113.4L1043.0 1113.1L1043.5 1113.0L1044.0 1113.0L1044.5 1113.0L1045.0 1113.0L1045.5 1113.2L1046.0 1113.3L1046.5 1113.1L1047.0 1112.9L1047.5 1112.8L1048.0 1113.0L1048.5 1113.1L1049.0 1112.9L1049.5 1113.0L1050.0 1113.1L1050.5 1113.0L1051.0 1113.0L1051.5 1112.9L1052.0 1112.8L1052.5 1113.0L1053.0 1113.0L1053.5 1112.7L1054.0 1112.6L1054.5 1112.8L1055.0 1113.0L1055.5 1113.0L1056.0 1112.8L1056.5 1112.5L1057.0 1112.4L1057.5 1112.6L1058.0 1112.5L1058.5 1112.4L1059.0 1112.4L1059.5 1112.6L1060.0 1112.5L1060.5 1112.3L1061.0 1112.3L1061.5 1112.1L1062.0 1112.1L1062.5 1112.3L1063.0 1112.6L1063.5 1112.7L1064.0 1112.4L1064.5 1112.2L1065.0 1112.1L1065.5 1111.9L1066.0 1111.8L1066.5 1111.9L1067.0 1112.1L1067.5 1112.1L1068.0 1111.8L1068.5 1111.7L1069.0 1111.8L1069.5 1111.7L1070.0 1111.6L1070.5 1111.4L1071.0 1111.2L1071.5 1111.3L1072.0 1111.4L1072.1 1111.3L1072.5 1111.1L1073.0 1111.0L1073.5 1111.0L1074.0 1110.9L1074.5 1110.7L1075.0 1110.6L1075.5 1110.6L1076.0 1110.6L1076.5 1110.3L1077.0 1110.2L1077.5 1110.2L1078.0 1110.0L1078.5 1109.6L1079.0 1109.3L1079.5 1109.1L1080.0 1109.1L1080.5 1109.0L1081.0 1108.9L1081.5 1108.6L1082.0 1108.3L1082.5 1108.2L1083.0 1108.1L1083.5 1107.9L1084.0 1107.7L1084.5 1107.4L1085.0 1107.3L1085.5 1107.3L1086.0 1107.5L1086.5 1107.4L1086.6 1107.1L1087.0 1107.0L1087.5 1107.2L1088.0 1107.5L1088.5 1107.7L1089.0 1107.6L1089.5 1107.6L1090.0 1107.9L1090.5 1108.1L1091.0 1108.2L1091.5 1108.6L1092.0 1108.8L1092.3 1108.7L1092.5 1108.9L1093.0 1109.3L1093.5 1109.4L1094.0 1109.5L1094.5 1109.8L1095.0 1109.8L1095.5 1109.7L1096.0 1109.8L1096.5 1109.8L1096.8 1109.9L1097.0 1109.9L1097.5 1109.9L1098.0 1110.0L1098.5 1110.2L1099.0 1110.3L1099.5 1110.2L1100.0 1110.3L1100.5 1110.2L1101.0 1110.1L1101.5 1110.2L1102.0 1110.4L1102.5 1110.5L1103.0 1110.7L1103.5 1110.9L1104.0 1110.7L1104.5 1110.5L1105.0 1110.6L1105.5 1110.5L1106.0 1110.4L1106.5 1110.5L1107.0 1110.3L1107.5 1110.1L1108.0 1110.2L1108.5 1110.4L1109.0 1110.6L1109.5 1110.6L1110.0 1110.7L1110.5 1110.6L1111.0 1110.4L1111.5 1110.3L1112.0 1110.6L1112.5 1110.7L1113.0 1110.5L1113.5 1110.2L1113.6 1110.4L1114.0 1110.7L1114.5 1110.6L1115.0 1110.4L1115.5 1110.5L1116.0 1110.6L1116.5 1110.5L1117.0 1110.3L1117.5 1110.3L1118.0 1110.5L1118.5 1110.7L1119.0 1110.7L1119.5 1110.7L1120.0 1110.7L1120.5 1110.6L1121.0 1110.6L1121.5 1110.7L1122.0 1110.8L1122.5 1110.7L1123.0 1110.6L1123.5 1110.6L1124.0 1110.6L1124.5 1110.7L1125.0 1110.7L1125.5 1110.6L1126.0 1110.4L1126.5 1110.6L1127.0 1110.7L1127.5 1110.6L1128.0 1110.8L1128.5 1110.7L1129.0 1110.5L1129.5 1110.4L1130.0 1110.6L1130.5 1110.5L1131.0 1110.5L1131.5 1110.6L1132.0 1110.4L1132.5 1110.3L1133.0 1110.4L1133.5 1110.5L1134.0 1110.7L1134.5 1110.7L1135.0 1110.7L1135.5 1110.6L1136.0 1110.5L1136.5 1110.7L1137.0 1110.9L1137.5 1110.6L1138.0 1110.3L1138.5 1110.4L1139.0 1110.7L1139.5 1110.5L1140.0 1110.5L1140.5 1110.5L1141.0 1110.5L1141.5 1110.8L1142.0 1110.9L1142.5 1110.7L1143.0 1110.6L1143.5 1110.5L1143.8 1110.4L1144.0 1110.6L1144.5 1110.6L1145.0 1110.6L1145.5 1110.6L1146.0 1110.4L1146.5 1110.3L1147.0 1110.5L1147.5 1110.8L1148.0 1110.9L1148.5 1110.8L1149.0 1110.6L1149.5 1110.7L1150.0 1110.7L1150.5 1110.5L1151.0 1110.6L1151.5 1110.9L1152.0 1111.1L1152.5 1111.0L1153.0 1111.1L1153.5 1111.1L1154.0 1111.0L1154.5 1111.0L1155.0 1110.9L1155.5 1111.0L1156.0 1111.2L1156.5 1111.5L1157.0 1111.4L1157.5 1111.2L1158.0 1111.2L1158.5 1111.2L1159.0 1111.3L1159.5 1111.4L1160.0 1111.4L1160.5 1111.4L1161.0 1111.3L1161.5 1111.4L1162.0 1111.4L1162.5 1111.3L1163.0 1111.4L1163.5 1111.4L1164.0 1111.3L1164.5 1111.2L1165.0 1111.2L1165.5 1111.4L1166.0 1111.2L1166.5 1111.2L1167.0 1111.3L1167.5 1111.2L1168.0 1111.4L1168.5 1111.5L1169.0 1111.4L1169.5 1111.3L1170.0 1111.0L1170.5 1111.1L1171.0 1111.3L1171.5 1111.3L1172.0 1111.3L1172.5 1111.4L1173.0 1111.2L1173.5 1111.1L1174.0 1111.1L1174.5 1111.1L1175.0 1110.9L1175.5 1111.1L1176.0 1111.3L1176.5 1111.1L1177.0 1110.5L1177.5 1110.5L1178.0 1110.9L1178.5 1110.9L1179.0 1110.9L1179.5 1110.9L1180.0 1110.8L1180.5 1110.9L1181.0 1111.0L1181.5 1110.9L1182.0 1110.9L1182.5 1110.8L1183.0 1110.7L1183.5 1110.6L1184.0 1110.7L1184.1 1110.6L1184.5 1110.5L1185.0 1110.7L1185.5 1110.8L1186.0 1110.7L1186.5 1110.4L1187.0 1110.2L1187.5 1109.9L1188.0 1109.7L1188.5 1109.7L1189.0 1109.6L1189.5 1109.5L1190.0 1109.4L1190.5 1109.0L1191.0 1108.7L1191.5 1108.8L1192.0 1108.8L1192.5 1108.6L1193.0 1108.2L1193.5 1108.0L1194.0 1107.8L1194.5 1107.8L1195.0 1107.9L1195.5 1107.9L1196.0 1107.7L1196.5 1107.6L1197.0 1107.6L1197.5 1107.1L1197.6 1106.8L1198.0 1107.0L1198.5 1107.1L1199.0 1107.0L1199.5 1106.9L1200.0 1107.0L1200.5 1107.0L1201.0 1106.7L1201.5 1106.4L1202.0 1106.3L1202.5 1106.5L1203.0 1106.7L1203.5 1106.7L1204.0 1106.6L1204.5 1106.6L1205.0 1106.4L1205.5 1106.3L1206.0 1106.0L1206.5 1105.9L1207.0 1106.0L1207.5 1105.9L1208.0 1106.0L1208.5 1106.1L1209.0 1105.9L1209.5 1105.6L1210.0 1105.6L1210.5 1105.7L1211.0 1105.5L1211.5 1105.4L1212.0 1105.3L1212.5 1105.3L1213.0 1105.3L1213.5 1105.0L1214.0 1104.9L1214.5 1105.0L1215.0 1105.0L1215.5 1104.9L1216.0 1104.7L1216.5 1104.7L1217.0 1104.8L1217.5 1104.6L1218.0 1104.3L1218.5 1104.1L1219.0 1104.1L1219.5 1104.0L1220.0 1103.8L1220.5 1103.4L1221.0 1103.2L1221.5 1103.3L1222.0 1103.4L1222.5 1103.4L1222.8 1103.3L1223.0 1103.2L1223.5 1102.9L1224.0 1102.7L1224.5 1102.6L1225.0 1102.5L1225.5 1102.3L1226.0 1102.1L1226.5 1101.8L1227.0 1101.5L1227.5 1101.1L1228.0 1100.8L1228.5 1100.5L1229.0 1100.5L1229.5 1100.5L1230.0 1100.2L1230.5 1099.4L1231.0 1099.0L1231.2 1098.8L1231.5 1098.4L1232.0 1097.4L1232.5 1096.0L1233.0 1094.5L1233.5 1092.9L1234.0 1091.5L1234.5 1090.4L1235.0 1089.4L1235.5 1088.5L1236.0 1087.5L1236.5 1086.7L1237.0 1086.0L1237.5 1085.6L1237.9 1085.5L1238.0 1085.5L1238.5 1085.9L1239.0 1086.8L1239.5 1088.0L1240.0 1089.3L1240.5 1090.6L1241.0 1091.6L1241.3 1092.1L1241.5 1092.4L1242.0 1093.1L1242.5 1093.7L1243.0 1094.4L1243.5 1095.0L1244.0 1095.5L1244.5 1095.9L1245.0 1096.2L1245.5 1096.3L1246.0 1096.2L1246.5 1096.1L1247.0 1095.9L1247.5 1095.5L1248.0 1095.1L1248.5 1094.7L1249.0 1094.1L1249.5 1093.5L1250.0 1092.8L1250.5 1092.1L1251.0 1091.1L1251.5 1089.6L1252.0 1087.7L1252.5 1085.2L1253.0 1082.3L1253.5 1079.0L1254.0 1075.2L1254.2 1073.6L1254.5 1070.5L1255.0 1063.0L1255.5 1053.3L1256.0 1042.3L1256.1 1040.0L1256.5 1029.5L1257.0 1013.6L1257.4 1000.0L1257.5 996.5L1258.0 978.0L1258.5 958.1L1258.7 950.0L1259.0 936.3L1259.4 920.0L1259.5 917.0L1259.8 911.2L1260.0 911.2L1260.5 911.2L1261.0 911.2L1261.4 911.2L1261.5 912.1L1261.8 920.0L1262.0 925.8L1262.5 943.1L1262.7 950.0L1263.0 960.1L1263.5 977.2L1264.0 993.7L1264.2 1000.0L1264.5 1009.5L1265.0 1025.2L1265.5 1038.0L1265.6 1040.0L1266.0 1047.0L1266.5 1054.7L1267.0 1061.3L1267.5 1066.9L1268.0 1071.8L1268.2 1073.6L1268.5 1076.1L1269.0 1080.2L1269.5 1083.9L1270.0 1087.3L1270.5 1090.2L1271.0 1092.4L1271.4 1093.8L1271.5 1094.1L1272.0 1095.4L1272.5 1096.6L1273.0 1097.7L1273.5 1098.6L1274.0 1099.4L1274.5 1100.1L1275.0 1100.7L1275.5 1101.1L1275.7 1101.3L1276.0 1101.5L1276.5 1101.8L1277.0 1102.2L1277.5 1102.5L1278.0 1102.7L1278.5 1103.0L1279.0 1103.2L1279.5 1103.4L1280.0 1103.6L1280.5 1103.4L1281.0 1103.5L1281.5 1103.9L1281.6 1103.8L1282.0 1103.6L1282.5 1103.3L1283.0 1103.6L1283.5 1104.0L1284.0 1104.0L1284.5 1103.7L1285.0 1103.5L1285.5 1103.6L1286.0 1104.0L1286.5 1104.0L1287.0 1103.8L1287.5 1103.7L1288.0 1103.7L1288.5 1104.1L1289.0 1104.1L1289.5 1103.8L1290.0 1103.9L1290.5 1104.0L1291.0 1104.0L1291.5 1104.4L1292.0 1104.4L1292.5 1104.0L1293.0 1104.2L1293.5 1104.2L1294.0 1103.8L1294.5 1103.8L1295.0 1103.8L1295.5 1103.8L1296.0 1103.9L1296.5 1103.6L1297.0 1103.2L1297.5 1103.3L1298.0 1103.7L1298.5 1103.9L1299.0 1103.9L1299.5 1103.8L1300.0 1103.9L1300.5 1104.2L1301.0 1104.0L1301.5 1103.6L1302.0 1103.8L1302.5 1104.0L1303.0 1103.8L1303.5 1103.6L1304.0 1103.6L1304.5 1103.6L1305.0 1103.6L1305.5 1103.6L1306.0 1103.8L1306.5 1103.7L1307.0 1103.5L1307.5 1103.5L1308.0 1103.5L1308.5 1103.8L1309.0 1104.0L1309.5 1103.7L1310.0 1103.8L1310.5 1103.9L1311.0 1103.8L1311.5 1103.8L1312.0 1104.1L1312.5 1104.2L1313.0 1103.9L1313.5 1103.9L1314.0 1103.8L1314.5 1103.3L1315.0 1103.2L1315.2 1103.1L1315.5 1103.4L1316.0 1104.1L1316.5 1104.3L1317.0 1104.1L1317.5 1104.0L1318.0 1103.8L1318.5 1103.7L1319.0 1103.6L1319.5 1103.7L1320.0 1104.0L1320.5 1104.1L1321.0 1104.0L1321.5 1103.8L1322.0 1103.8L1322.5 1103.6L1323.0 1103.6L1323.5 1103.8L1324.0 1103.7L1324.5 1103.6L1325.0 1103.8L1325.5 1104.0L1326.0 1103.9L1326.5 1103.8L1327.0 1103.8L1327.5 1103.9L1328.0 1103.9L1328.5 1104.0L1329.0 1104.2L1329.5 1104.2L1330.0 1103.8L1330.5 1103.6L1331.0 1104.1L1331.5 1104.3L1332.0 1103.7L1332.5 1103.2L1333.0 1103.1L1333.5 1103.3L1334.0 1103.6L1334.5 1103.5L1335.0 1103.1L1335.5 1103.3L1336.0 1103.6L1336.5 1103.3L1337.0 1103.2L1337.5 1103.3L1338.0 1103.3L1338.5 1103.2L1339.0 1103.2L1339.5 1103.2L1340.0 1103.3L1340.5 1103.4L1341.0 1103.3L1341.5 1103.2L1342.0 1103.2L1342.5 1103.2L1343.0 1103.1L1343.5 1102.9L1344.0 1102.5L1344.5 1102.4L1345.0 1102.8L1345.5 1103.2L1346.0 1103.1L1346.5 1102.7L1347.0 1102.9L1347.5 1103.3L1348.0 1103.2L1348.5 1103.0L1348.8 1102.5L1349.0 1102.5L1349.5 1103.2L1350.0 1103.5L1350.5 1103.1L1351.0 1102.8L1351.5 1102.8L1352.0 1103.0L1352.5 1102.8L1353.0 1102.4L1353.5 1102.2L1354.0 1102.4L1354.5 1102.8L1355.0 1102.8L1355.5 1102.6L1356.0 1102.6L1356.5 1102.5L1357.0 1102.2L1357.5 1101.9L1358.0 1101.7L1358.5 1102.0L1359.0 1102.3L1359.5 1102.0L1360.0 1102.0L1360.5 1102.0L1361.0 1101.7L1361.5 1101.8L1362.0 1101.9L1362.5 1102.0L1363.0 1102.0L1363.5 1101.8L1364.0 1101.7L1364.5 1101.9L1365.0 1101.8L1365.5 1101.5L1366.0 1101.2L1366.5 1101.3L1367.0 1101.4L1367.5 1101.3L1368.0 1101.4L1368.5 1101.8L1369.0 1101.6L1369.5 1101.2L1370.0 1100.9L1370.5 1101.0L1371.0 1101.3L1371.5 1101.3L1372.0 1101.4L1372.5 1101.5L1373.0 1101.0L1373.5 1100.6L1374.0 1100.7L1374.5 1100.9L1375.0 1100.8L1375.5 1100.8L1376.0 1100.9L1376.5 1100.8L1377.0 1100.3L1377.5 1100.0L1378.0 1100.3L1378.5 1100.3L1379.0 1100.1L1379.5 1100.1L1380.0 1099.9L1380.5 1100.0L1381.0 1100.1L1381.5 1100.2L1382.0 1100.1L1382.5 1099.9L1383.0 1099.8L1383.5 1099.7L1384.0 1099.8L1384.5 1099.9L1385.0 1099.7L1385.5 1099.5L1386.0 1099.6L1386.5 1099.9L1387.0 1100.0L1387.5 1099.8L1388.0 1099.4L1388.5 1099.5L1389.0 1099.8L1389.5 1099.4L1390.0 1099.1L1390.5 1099.1L1391.0 1099.1L1391.5 1099.4L1392.0 1099.6L1392.5 1099.3L1393.0 1099.0L1393.5 1099.1L1394.0 1099.5L1394.5 1099.8L1395.0 1100.1L1395.5 1099.5L1396.0 1098.8L1396.5 1098.8L1397.0 1099.1L1397.5 1099.2L1398.0 1099.2L1398.5 1099.0L1399.0 1099.0L1399.5 1099.2L1400.0 1099.2L1400.5 1098.7L1401.0 1098.2L1401.5 1098.5L1402.0 1099.1L1402.5 1099.0L1403.0 1098.6L1403.5 1098.6L1403.6 1098.9L1404.0 1098.9L1404.5 1098.7L1405.0 1098.6L1405.5 1098.6L1406.0 1098.7L1406.5 1099.0L1407.0 1098.8L1407.5 1098.2L1408.0 1098.1L1408.5 1098.5L1409.0 1098.5L1409.5 1098.2L1410.0 1098.2L1410.5 1098.4L1411.0 1098.4L1411.5 1098.4L1412.0 1098.6L1412.5 1098.8L1413.0 1098.9L1413.5 1098.8L1414.0 1098.6L1414.5 1098.3L1415.0 1098.4L1415.5 1098.6L1416.0 1098.7L1416.5 1098.7L1417.0 1098.6L1417.5 1098.5L1418.0 1098.4L1418.5 1098.1L1419.0 1098.1L1419.5 1098.3L1420.0 1098.4L1420.5 1098.3L1421.0 1098.3L1421.5 1098.3L1422.0 1098.5L1422.5 1098.5L1423.0 1098.4L1423.5 1098.3L1424.0 1098.5L1424.5 1098.5L1425.0 1098.3L1425.5 1098.2L1426.0 1098.1L1426.5 1098.0L1427.0 1098.2L1427.5 1098.3L1428.0 1098.3L1428.5 1098.4L1429.0 1098.3L1429.5 1098.4L1430.0 1098.2L1430.5 1097.9L1431.0 1097.8L1431.5 1097.8L1432.0 1098.1L1432.5 1098.6L1433.0 1098.8L1433.5 1098.4L1434.0 1097.9L1434.5 1098.1L1435.0 1098.5L1435.5 1098.6L1436.0 1098.5L1436.5 1098.1L1437.0 1097.8L1437.5 1097.7L1438.0 1098.1L1438.5 1098.3L1439.0 1098.2L1439.5 1098.3L1440.0 1098.5L1440.5 1098.4L1440.6 1098.2L1441.0 1098.4L1441.5 1098.5L1442.0 1098.2L1442.5 1098.4L1443.0 1098.7L1443.5 1098.7L1444.0 1098.3L1444.5 1097.7L1445.0 1097.7L1445.5 1097.9L1446.0 1098.1L1446.5 1098.3L1447.0 1098.4L1447.5 1098.4L1448.0 1098.4L1448.5 1098.3L1449.0 1098.5L1449.5 1098.4L1450.0 1096.5L1450.5 1096.7L1451.0 1097.5L1451.5 1098.8L1452.0 1099.8L1452.5 1099.2L1453.0 1097.6L1453.5 1097.0L1454.0 1097.6L1454.5 1098.0L1455.0 1098.3L1455.5 1099.4L1456.0 1099.9L1456.5 1099.0L1457.0 1099.5L1457.5 1100.4L1458.0 1099.4L1458.5 1099.3L1459.0 1099.6L1459.5 1098.2L1460.0 1097.5L1460.5 1098.5L1460.7 1099.7L1461.0 1100.2L1461.5 1100.5L1462.0 1101.0L1462.5 1100.4L1463.0 1099.8L1463.5 1100.2L1464.0 1100.8L1464.5 1100.5L1465.0 1100.6L1465.5 1101.7L1466.0 1102.1L1466.5 1101.2L1467.0 1099.9L1467.5 1099.7L1468.0 1100.3L1468.5 1100.6L1469.0 1100.6L1469.5 1101.1L1470.0 1101.3L1470.5 1101.0L1471.0 1101.2L1471.5 1101.2L1472.0 1101.1L1472.5 1101.6L1473.0 1102.2L1473.5 1102.0L1474.0 1101.6L1474.1 1101.9L1474.5 1102.3L1475.0 1102.3L1475.5 1102.4L1476.0 1102.8L1476.5 1102.4L1477.0 1101.3L1477.5 1100.8L1478.0 1101.3L1478.5 1102.1L1479.0 1102.1L1479.5 1102.2L1480.0 1102.9L1480.5 1104.1L1481.0 1104.4L1481.5 1104.0L1482.0 1104.2L1482.5 1104.2L1483.0 1103.8L1483.5 1102.8L1484.0 1102.4L1484.5 1103.4L1485.0 1103.6L1485.5 1102.6L1486.0 1102.8L1486.5 1103.6L1487.0 1103.4L1487.5 1102.7L1488.0 1103.0L1488.5 1104.4L1489.0 1104.9L1489.5 1104.5L1490.0 1104.3L1490.5 1104.2L1491.0 1103.9L1491.5 1103.6L1492.0 1103.3L1492.5 1103.4L1493.0 1104.1L1493.5 1104.7L1494.0 1104.6L1494.5 1104.2L1495.0 1104.1L1495.5 1103.4L1496.0 1102.0L1496.5 1102.3L1497.0 1103.0L1497.5 1103.2L1498.0 1104.2L1498.5 1104.4L1499.0 1103.9L1499.5 1103.8L1500.0 1103.4L1500.5 1103.4L1501.0 1103.6L1501.5 1103.9L1502.0 1104.7L1502.5 1105.0L1503.0 1105.2L1503.5 1105.2L1504.0 1104.8L1504.4 1104.4L1504.5 1104.4L1505.0 1104.8L1505.5 1105.6L1506.0 1105.9L1506.5 1105.3L1507.0 1105.2L1507.5 1105.8L1508.0 1106.1L1508.5 1105.6L1509.0 1105.2L1509.5 1105.2L1510.0 1105.7L1510.5 1105.8L1511.0 1105.5L1511.5 1105.8L1512.0 1106.4L1512.5 1106.2L1513.0 1106.1L1513.5 1106.8L1514.0 1107.2L1514.5 1107.2L1515.0 1107.0L1515.5 1106.6L1516.0 1106.8L1516.5 1107.1L1517.0 1106.5L1517.5 1105.9L1518.0 1106.6L1518.5 1107.4L1519.0 1107.5L1519.5 1107.2L1520.0 1106.7L1520.5 1105.9L1521.0 1105.2L1521.5 1105.3L1522.0 1107.1L1522.5 1109.2L1523.0 1109.0L1523.5 1107.9L1524.0 1108.4L1524.5 1108.9L1525.0 1107.7L1525.5 1107.3L1526.0 1108.4L1526.5 1108.4L1527.0 1108.5L1527.5 1109.5L1528.0 1109.6L1528.5 1109.7L1529.0 1109.8L1529.5 1108.8L1529.6 1108.3L1530.0 1108.9L1530.5 1109.3L1531.0 1109.5L1531.5 1109.2L1532.0 1108.7L1532.5 1108.8L1533.0 1108.9L1533.5 1108.9L1534.0 1109.3L1534.5 1109.6L1535.0 1109.2L1535.5 1108.9L1536.0 1109.0L1536.5 1109.5L1537.0 1110.2L1537.5 1109.8L1538.0 1109.8L1538.5 1110.5L1539.0 1109.7L1539.5 1108.6L1540.0 1108.7L1540.5 1109.8L1541.0 1110.6L1541.5 1110.7L1542.0 1110.3L1542.5 1110.1L1543.0 1110.7L1543.5 1111.0L1544.0 1111.3L1544.5 1112.1L1545.0 1111.5L1545.5 1111.6L1546.0 1112.2L1546.4 1111.7L1546.5 1111.1L1547.0 1111.4L1547.5 1110.8L1548.0 1109.5L1548.5 1110.0L1549.0 1110.3L1549.5 1110.2L1550.0 1110.6L1550.5 1111.0L1551.0 1111.0L1551.5 1111.0L1552.0 1110.7L1552.5 1109.7L1553.0 1109.3L1553.5 1109.9L1554.0 1110.5L1554.5 1110.9L1555.0 1111.0L1555.5 1111.1L1556.0 1111.8L1556.5 1111.8L1557.0 1110.5L1557.5 1109.6L1558.0 1109.5L1558.5 1110.3L1559.0 1111.8L1559.5 1111.7L1560.0 1111.3L1560.5 1112.0L1561.0 1111.1L1561.5 1110.3L1562.0 1111.8L1562.5 1112.6L1563.0 1111.6L1563.5 1111.4L1564.0 1111.9L1564.5 1111.6L1565.0 1111.6L1565.5 1112.0L1566.0 1111.9L1566.5 1111.2L1567.0 1111.2L1567.5 1111.2L1568.0 1110.8L1568.5 1111.4L1569.0 1112.3L1569.5 1112.2L1570.0 1111.9L1570.5 1112.2L1571.0 1112.2L1571.5 1111.6L1571.6 1111.8L1572.0 1111.9L1572.5 1111.1L1573.0 1111.6L1573.5 1113.1L1574.0 1113.0L1574.5 1112.3L1575.0 1112.5L1575.5 1113.1L1576.0 1113.6L1576.5 1112.7L1577.0 1111.1L1577.5 1111.9L1578.0 1113.6L1578.5 1113.6L1579.0 1112.2L1579.5 1111.6L1580.0 1112.1L1580.5 1112.2L1581.0 1112.0L1581.5 1112.1L1582.0 1112.9L1582.5 1113.4L1583.0 1112.8L1583.5 1111.7L1584.0 1111.0L1584.5 1111.7L1585.0 1112.2L1585.5 1112.1L1586.0 1113.3L1586.5 1114.0L1587.0 1113.1L1587.5 1113.0L1588.0 1113.8L1588.5 1113.7L1589.0 1112.9L1589.5 1112.9L1590.0 1113.1L1590.5 1113.2L1591.0 1113.6L1591.5 1114.0L1592.0 1113.6L1592.5 1113.0L1593.0 1113.8L1593.5 1114.1L1594.0 1113.7L1594.5 1113.9L1595.0 1114.2L1595.5 1113.8L1596.0 1113.5L1596.5 1113.4L1596.8 1112.8L1597.0 1112.3L1597.5 1112.4L1598.0 1112.9L1598.5 1113.7L1599.0 1114.2L1599.5 1114.5L1600.0 1114.6L1600.5 1113.9L1601.0 1113.1L1601.5 1112.9L1602.0 1113.0L1602.5 1113.8L1603.0 1114.2L1603.5 1113.6L1604.0 1113.8L1604.5 1114.4L1605.0 1114.3L1605.5 1114.2L1606.0 1114.2L1606.5 1114.2L1607.0 1113.8L1607.5 1113.3L1608.0 1114.1L1608.5 1114.3L1609.0 1113.8L1609.5 1114.0L1610.0 1114.2L1610.5 1114.6L1611.0 1114.8L1611.5 1114.9L1612.0 1114.5L1612.5 1114.3L1613.0 1115.4L1613.5 1115.4L1614.0 1114.4L1614.5 1114.7L1615.0 1114.8L1615.5 1114.0L1616.0 1114.1L1616.5 1114.9L1617.0 1115.0L1617.5 1115.6L1618.0 1116.2L1618.5 1115.2L1619.0 1114.6L1619.5 1114.6L1620.0 1113.9L1620.5 1114.6L1621.0 1115.9L1621.5 1115.2L1622.0 1114.3L1622.5 1114.1L1623.0 1114.4L1623.5 1114.0L1624.0 1112.9L1624.5 1113.7L1625.0 1115.1L1625.5 1115.5L1626.0 1114.8L1626.5 1114.3L1627.0 1114.4L1627.5 1114.1L1628.0 1113.9L1628.5 1115.0L1629.0 1115.6L1629.5 1114.9L1630.0 1114.9L1630.5 1114.4L1631.0 1113.3L1631.5 1113.3L1632.0 1113.8L1632.5 1114.1L1633.0 1114.0L1633.5 1113.4L1634.0 1113.6L1634.5 1114.5L1635.0 1114.2L1635.5 1113.7L1636.0 1114.4L1636.5 1115.1L1637.0 1113.9L1637.5 1113.3L1638.0 1114.8L1638.5 1115.9L1638.8 1115.0L1639.0 1113.0L1639.5 1112.8L1640.0 1114.1L1640.5 1114.5L1641.0 1114.2L1641.5 1114.6L1642.0 1115.0L1642.5 1114.4L1643.0 1113.9L1643.5 1113.6L1644.0 1113.3L1644.5 1113.7L1645.0 1113.3L1645.5 1112.3L1646.0 1112.2L1646.5 1112.3L1647.0 1112.7L1647.5 1114.0L1648.0 1114.8L1648.5 1114.0L1649.0 1112.5L1649.5 1112.6L1650.0 1113.7L1650.5 1113.9L1651.0 1113.3L1651.5 1112.4L1652.0 1112.9L1652.5 1114.4L1653.0 1114.1L1653.5 1113.2L1654.0 1113.5L1654.5 1114.3L1655.0 1114.0L1655.5 1113.6L1656.0 1113.8L1656.5 1114.2L1657.0 1114.1L1657.2 1113.1"/>
<g stroke="#000" stroke-width="4.8" fill="none" stroke-linecap="butt">
<rect x="225.2" y="55.8" width="1526.9" height="1162.3"/>
<path d="M320.4 1218.1V1194.9M511.2 1218.1V1194.9M702.1 1218.1V1194.9M892.9 1218.1V1194.9M1083.7 1218.1V1194.9M1274.6 1218.1V1194.9M1465.4 1218.1V1194.9M1656.2 1218.1V1194.9M415.8 1218.1V1206.1M606.6 1218.1V1206.1M797.5 1218.1V1206.1M988.3 1218.1V1206.1M1179.1 1218.1V1206.1M1370.0 1218.1V1206.1M1560.8 1218.1V1206.1M225.2 1112.5H248.4M225.2 901.2H248.4M225.2 689.8H248.4M225.2 478.5H248.4M225.2 267.1H248.4M225.2 1006.8H237.2M225.2 795.5H237.2M225.2 584.1H237.2M225.2 372.8H237.2M225.2 161.5H237.2"/>
</g>
<g font-size="75" text-anchor="middle">
<text x="320.7" y="1298.8">500</text>
<text x="511.5" y="1298.8">1000</text>
<text x="702.4" y="1298.8">1500</text>
<text x="893.2" y="1298.8">2000</text>
<text x="1084.0" y="1298.8">2500</text>
<text x="1274.9" y="1298.8">3000</text>
<text x="1465.7" y="1298.8">3500</text>
<text x="1656.5" y="1298.8">4000</text>
</g>
<g font-size="75" text-anchor="end">
<text x="198.7" y="1134.4">0.0</text>
<text x="198.7" y="923.1">0.3</text>
<text x="198.7" y="711.7">0.6</text>
<text x="198.7" y="500.4">0.9</text>
<text x="198.7" y="289.0">1.2</text>
<text x="198.7" y="77.7">1.5</text>
</g>
<text font-size="74" x="700.0" y="1422.0">Wavenumber/cm<tspan font-size="58" dx="0.3" dy="-25.5">−</tspan><tspan font-size="49.5" dx="-2" dy="-2.5">1</tspan></text>
<text font-size="76" text-anchor="middle" transform="translate(75.8 637.0) rotate(-90) scale(0.945 1)">Absorbance</text>
<line x1="874.8" y1="143.4" x2="1021.1" y2="143.4" stroke="#0000ff" stroke-width="4.8"/>
<text font-size="60.8" x="1035.0" y="163.5" textLength="199.6" lengthAdjust="spacingAndGlyphs">Unaged</text>
<line x1="874.8" y1="217.7" x2="1021.1" y2="217.7" stroke="#f43c3c" stroke-width="4.8"/>
<text font-size="60.8" x="1035.0" y="237.8" textLength="692.4" lengthAdjust="spacingAndGlyphs">Aging at 170°C for 30days</text>
<line x1="874.8" y1="291.9" x2="1021.1" y2="291.9" stroke="#000000" stroke-width="4.8"/>
<text font-size="60.8" x="1035.0" y="312.0" textLength="692.4" lengthAdjust="spacingAndGlyphs">Aging at 200°C for 30days</text>
</svg>
</body></html>
